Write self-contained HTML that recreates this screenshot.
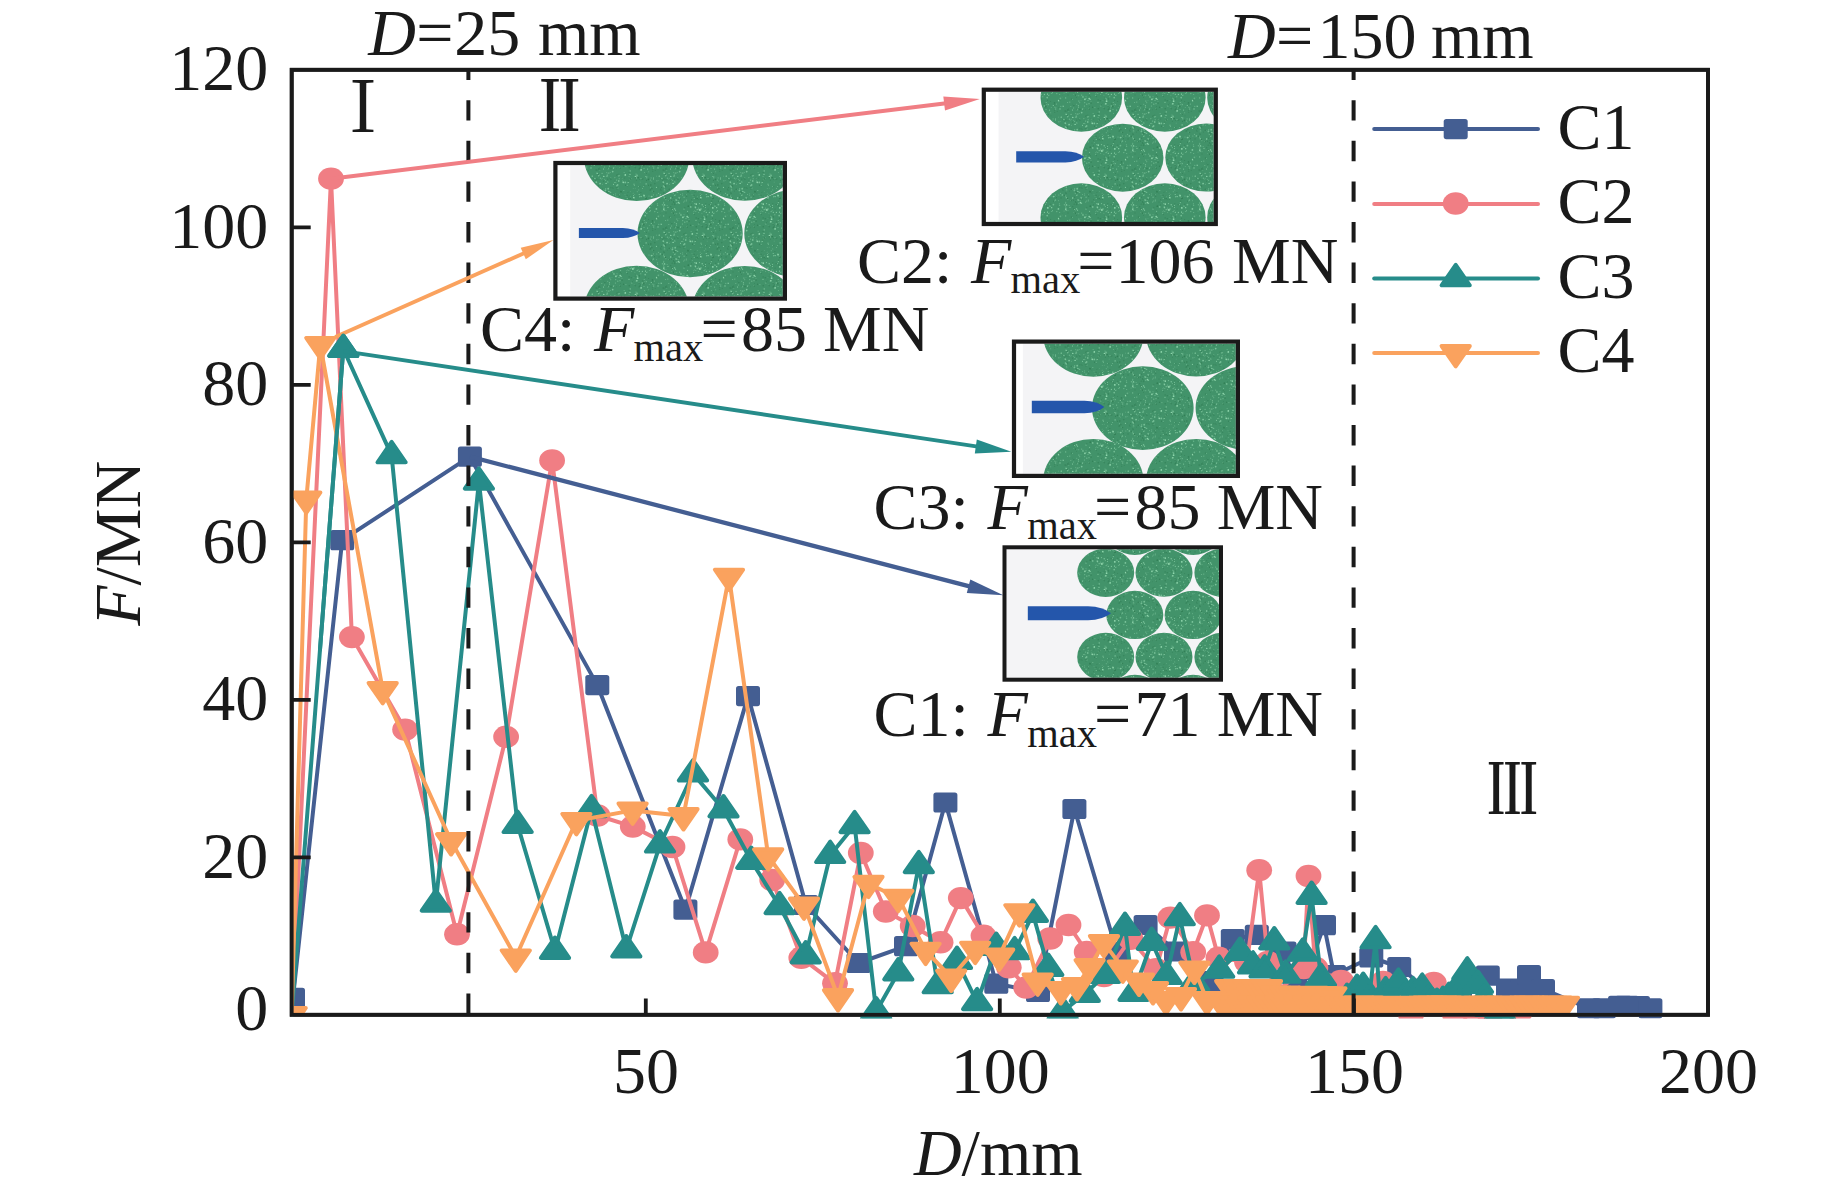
<!DOCTYPE html>
<html lang="en">
<head>
<meta charset="utf-8">
<title>F-D curves</title>
<style>html,body{margin:0;padding:0;background:#fff}body{width:1842px;height:1196px;overflow:hidden}svg{display:block}text{font-family:"Liberation Serif","Noto Serif CJK SC",serif;fill:#1a1a1a}.rn{font-family:"Noto Serif CJK SC","Liberation Serif",serif;font-weight:600}</style>
</head>
<body>
<svg width="1842" height="1196" viewBox="0 0 1842 1196">
<defs>
<pattern id="spk" width="67" height="59" patternUnits="userSpaceOnUse"><circle cx="30.3" cy="33.0" r="0.85" fill="#9be0b6" opacity="0.61"/><circle cx="34.0" cy="34.7" r="0.45" fill="#9be0b6" opacity="0.79"/><circle cx="31.9" cy="36.2" r="0.45" fill="#9be0b6" opacity="0.40"/><circle cx="20.3" cy="5.3" r="0.85" fill="#9be0b6" opacity="0.84"/><circle cx="42.5" cy="35.1" r="0.55" fill="#9be0b6" opacity="0.88"/><circle cx="43.8" cy="36.3" r="0.45" fill="#9be0b6" opacity="0.69"/><circle cx="55.7" cy="3.7" r="0.4" fill="#9be0b6" opacity="0.45"/><circle cx="16.2" cy="1.8" r="0.55" fill="#9be0b6" opacity="0.53"/><circle cx="39.6" cy="11.5" r="0.45" fill="#9be0b6" opacity="0.70"/><circle cx="33.5" cy="39.1" r="0.55" fill="#9be0b6" opacity="0.71"/><circle cx="27.3" cy="32.5" r="0.85" fill="#9be0b6" opacity="0.40"/><circle cx="17.0" cy="44.7" r="0.6" fill="#9be0b6" opacity="0.51"/><circle cx="4.7" cy="45.2" r="0.55" fill="#9be0b6" opacity="0.41"/><circle cx="19.5" cy="3.9" r="0.4" fill="#9be0b6" opacity="0.82"/><circle cx="0.0" cy="12.4" r="0.4" fill="#9be0b6" opacity="0.61"/><circle cx="65.7" cy="23.4" r="0.4" fill="#9be0b6" opacity="0.66"/><circle cx="13.3" cy="39.8" r="0.5" fill="#9be0b6" opacity="0.40"/><circle cx="22.3" cy="56.9" r="0.85" fill="#9be0b6" opacity="0.86"/><circle cx="9.0" cy="41.7" r="0.4" fill="#9be0b6" opacity="0.38"/><circle cx="53.4" cy="10.5" r="0.6" fill="#9be0b6" opacity="0.45"/><circle cx="34.1" cy="58.1" r="0.85" fill="#9be0b6" opacity="0.42"/><circle cx="43.1" cy="6.9" r="0.55" fill="#9be0b6" opacity="0.89"/><circle cx="0.0" cy="51.0" r="0.85" fill="#9be0b6" opacity="0.68"/><circle cx="66.9" cy="1.2" r="0.45" fill="#9be0b6" opacity="0.57"/><circle cx="57.2" cy="37.9" r="0.4" fill="#9be0b6" opacity="0.37"/><circle cx="9.8" cy="26.1" r="0.4" fill="#9be0b6" opacity="0.77"/><circle cx="22.0" cy="17.5" r="0.4" fill="#9be0b6" opacity="0.39"/><circle cx="14.0" cy="37.6" r="0.4" fill="#9be0b6" opacity="0.68"/><circle cx="24.9" cy="26.7" r="0.6" fill="#9be0b6" opacity="0.62"/><circle cx="38.5" cy="51.1" r="0.45" fill="#9be0b6" opacity="0.69"/><circle cx="20.8" cy="13.5" r="0.6" fill="#9be0b6" opacity="0.49"/><circle cx="12.7" cy="43.6" r="0.6" fill="#9be0b6" opacity="0.46"/><circle cx="63.7" cy="52.0" r="0.6" fill="#9be0b6" opacity="0.39"/><circle cx="3.2" cy="6.4" r="0.6" fill="#9be0b6" opacity="0.88"/><circle cx="16.0" cy="41.6" r="0.5" fill="#9be0b6" opacity="0.58"/><circle cx="60.6" cy="29.0" r="0.6" fill="#9be0b6" opacity="0.45"/><circle cx="48.3" cy="4.1" r="0.45" fill="#9be0b6" opacity="0.61"/><circle cx="43.8" cy="36.3" r="0.4" fill="#9be0b6" opacity="0.50"/><circle cx="61.5" cy="12.0" r="0.4" fill="#9be0b6" opacity="0.39"/><circle cx="27.6" cy="14.7" r="0.4" fill="#9be0b6" opacity="0.45"/><circle cx="24.7" cy="33.8" r="0.45" fill="#9be0b6" opacity="0.40"/><circle cx="9.3" cy="26.6" r="0.5" fill="#9be0b6" opacity="0.71"/><circle cx="46.3" cy="34.5" r="0.45" fill="#9be0b6" opacity="0.67"/><circle cx="61.9" cy="28.0" r="0.5" fill="#9be0b6" opacity="0.74"/><circle cx="64.5" cy="1.3" r="0.7" fill="#9be0b6" opacity="0.39"/><circle cx="4.5" cy="18.4" r="0.45" fill="#9be0b6" opacity="0.90"/><circle cx="5.0" cy="32.2" r="0.7" fill="#9be0b6" opacity="0.37"/><circle cx="62.7" cy="43.5" r="0.45" fill="#9be0b6" opacity="0.79"/><circle cx="61.3" cy="20.8" r="0.7" fill="#9be0b6" opacity="0.61"/><circle cx="5.2" cy="50.6" r="0.85" fill="#9be0b6" opacity="0.37"/><circle cx="33.5" cy="0.9" r="0.7" fill="#9be0b6" opacity="0.56"/><circle cx="39.0" cy="35.9" r="0.4" fill="#9be0b6" opacity="0.40"/><circle cx="7.7" cy="15.2" r="0.55" fill="#9be0b6" opacity="0.75"/><circle cx="26.0" cy="43.4" r="0.6" fill="#9be0b6" opacity="0.60"/><circle cx="31.0" cy="31.9" r="0.6" fill="#9be0b6" opacity="0.76"/><circle cx="2.0" cy="35.5" r="0.55" fill="#9be0b6" opacity="0.36"/><circle cx="64.1" cy="6.7" r="0.85" fill="#9be0b6" opacity="0.69"/><circle cx="61.7" cy="15.1" r="0.4" fill="#9be0b6" opacity="0.55"/><circle cx="9.6" cy="36.1" r="0.6" fill="#9be0b6" opacity="0.44"/><circle cx="60.7" cy="38.9" r="0.55" fill="#9be0b6" opacity="0.62"/><circle cx="16.2" cy="23.9" r="0.5" fill="#9be0b6" opacity="0.46"/><circle cx="28.9" cy="47.6" r="0.45" fill="#9be0b6" opacity="0.83"/><circle cx="25.8" cy="34.4" r="0.5" fill="#9be0b6" opacity="0.47"/><circle cx="9.0" cy="20.7" r="0.85" fill="#9be0b6" opacity="0.37"/><circle cx="4.3" cy="57.8" r="0.85" fill="#9be0b6" opacity="0.44"/><circle cx="30.2" cy="16.2" r="0.45" fill="#9be0b6" opacity="0.81"/><circle cx="25.6" cy="30.7" r="0.7" fill="#9be0b6" opacity="0.52"/><circle cx="56.2" cy="57.9" r="0.55" fill="#9be0b6" opacity="0.53"/><circle cx="55.5" cy="16.4" r="0.6" fill="#9be0b6" opacity="0.37"/><circle cx="47.5" cy="33.7" r="0.5" fill="#9be0b6" opacity="0.71"/><circle cx="37.8" cy="37.8" r="0.55" fill="#9be0b6" opacity="0.60"/><circle cx="1.7" cy="49.0" r="0.45" fill="#9be0b6" opacity="0.78"/><circle cx="53.4" cy="58.1" r="0.4" fill="#9be0b6" opacity="0.60"/><circle cx="42.2" cy="38.6" r="0.85" fill="#9be0b6" opacity="0.55"/><circle cx="5.2" cy="11.7" r="0.85" fill="#9be0b6" opacity="0.61"/><circle cx="12.0" cy="0.6" r="0.55" fill="#9be0b6" opacity="0.64"/><circle cx="2.4" cy="13.4" r="0.85" fill="#9be0b6" opacity="0.54"/><circle cx="46.7" cy="30.7" r="0.6" fill="#9be0b6" opacity="0.90"/><circle cx="10.7" cy="50.1" r="0.7" fill="#9be0b6" opacity="0.85"/><circle cx="5.8" cy="55.0" r="0.7" fill="#9be0b6" opacity="0.56"/><circle cx="30.2" cy="11.6" r="0.4" fill="#9be0b6" opacity="0.56"/><circle cx="38.1" cy="51.9" r="0.85" fill="#9be0b6" opacity="0.80"/><circle cx="23.0" cy="19.3" r="0.45" fill="#9be0b6" opacity="0.40"/><circle cx="58.0" cy="47.1" r="0.7" fill="#9be0b6" opacity="0.42"/><circle cx="16.2" cy="23.0" r="0.4" fill="#9be0b6" opacity="0.89"/><circle cx="36.0" cy="46.7" r="0.5" fill="#9be0b6" opacity="0.49"/><circle cx="48.1" cy="0.9" r="0.6" fill="#9be0b6" opacity="0.40"/><circle cx="29.5" cy="32.5" r="0.85" fill="#9be0b6" opacity="0.50"/><circle cx="61.6" cy="12.9" r="0.85" fill="#9be0b6" opacity="0.39"/><circle cx="53.6" cy="10.2" r="0.5" fill="#9be0b6" opacity="0.73"/><circle cx="61.4" cy="27.8" r="0.6" fill="#9be0b6" opacity="0.85"/><circle cx="34.7" cy="40.0" r="0.55" fill="#9be0b6" opacity="0.87"/><circle cx="33.0" cy="56.0" r="0.4" fill="#9be0b6" opacity="0.77"/><circle cx="29.4" cy="33.0" r="0.85" fill="#9be0b6" opacity="0.75"/><circle cx="42.8" cy="30.8" r="0.85" fill="#9be0b6" opacity="0.85"/><circle cx="17.2" cy="39.6" r="0.85" fill="#9be0b6" opacity="0.83"/><circle cx="40.8" cy="18.0" r="0.45" fill="#9be0b6" opacity="0.88"/><circle cx="35.1" cy="33.8" r="0.45" fill="#9be0b6" opacity="0.58"/><circle cx="7.7" cy="0.3" r="0.55" fill="#9be0b6" opacity="0.37"/><circle cx="65.0" cy="30.4" r="0.55" fill="#9be0b6" opacity="0.65"/><circle cx="66.3" cy="7.2" r="0.4" fill="#9be0b6" opacity="0.73"/><circle cx="4.4" cy="31.8" r="0.55" fill="#9be0b6" opacity="0.86"/><circle cx="53.6" cy="23.8" r="0.45" fill="#9be0b6" opacity="0.61"/><circle cx="8.5" cy="25.6" r="0.85" fill="#9be0b6" opacity="0.86"/><circle cx="61.6" cy="31.0" r="0.4" fill="#9be0b6" opacity="0.46"/><circle cx="41.4" cy="54.6" r="0.45" fill="#9be0b6" opacity="0.74"/><circle cx="65.5" cy="2.1" r="0.45" fill="#9be0b6" opacity="0.47"/><circle cx="46.0" cy="19.0" r="0.5" fill="#9be0b6" opacity="0.48"/><circle cx="33.4" cy="29.5" r="0.6" fill="#9be0b6" opacity="0.42"/><circle cx="34.2" cy="14.8" r="0.45" fill="#9be0b6" opacity="0.74"/><circle cx="58.9" cy="1.4" r="0.7" fill="#9be0b6" opacity="0.58"/><circle cx="35.5" cy="9.4" r="0.45" fill="#9be0b6" opacity="0.83"/><circle cx="35.8" cy="12.9" r="0.45" fill="#9be0b6" opacity="0.82"/><circle cx="41.0" cy="50.5" r="0.45" fill="#9be0b6" opacity="0.85"/><circle cx="42.1" cy="20.5" r="0.45" fill="#9be0b6" opacity="0.52"/><circle cx="21.1" cy="54.4" r="0.45" fill="#9be0b6" opacity="0.78"/><circle cx="13.0" cy="5.7" r="0.45" fill="#9be0b6" opacity="0.42"/><circle cx="5.9" cy="22.9" r="0.55" fill="#9be0b6" opacity="0.81"/><circle cx="28.2" cy="46.6" r="0.45" fill="#9be0b6" opacity="0.46"/><circle cx="42.1" cy="47.1" r="0.4" fill="#9be0b6" opacity="0.46"/><circle cx="45.7" cy="53.8" r="0.5" fill="#9be0b6" opacity="0.41"/><circle cx="33.9" cy="44.7" r="0.6" fill="#9be0b6" opacity="0.90"/><circle cx="55.8" cy="47.4" r="0.55" fill="#9be0b6" opacity="0.41"/><circle cx="2.5" cy="32.5" r="0.6" fill="#9be0b6" opacity="0.85"/><circle cx="32.2" cy="11.2" r="0.4" fill="#9be0b6" opacity="0.46"/><circle cx="56.3" cy="58.4" r="0.7" fill="#9be0b6" opacity="0.40"/><circle cx="4.2" cy="56.1" r="0.55" fill="#9be0b6" opacity="0.39"/><circle cx="6.5" cy="23.1" r="0.55" fill="#9be0b6" opacity="0.63"/><circle cx="28.8" cy="35.5" r="0.4" fill="#9be0b6" opacity="0.70"/><circle cx="2.7" cy="11.8" r="0.55" fill="#9be0b6" opacity="0.60"/><circle cx="49.5" cy="23.9" r="0.45" fill="#9be0b6" opacity="0.68"/><circle cx="6.4" cy="46.7" r="0.5" fill="#9be0b6" opacity="0.84"/><circle cx="53.7" cy="41.6" r="0.85" fill="#9be0b6" opacity="0.85"/><circle cx="63.0" cy="33.6" r="0.45" fill="#9be0b6" opacity="0.63"/><circle cx="65.8" cy="47.5" r="0.5" fill="#9be0b6" opacity="0.50"/><circle cx="7.8" cy="43.8" r="0.45" fill="#9be0b6" opacity="0.80"/><circle cx="27.2" cy="52.9" r="0.6" fill="#9be0b6" opacity="0.73"/><circle cx="51.4" cy="45.1" r="0.55" fill="#9be0b6" opacity="0.46"/><circle cx="12.4" cy="47.0" r="0.5" fill="#9be0b6" opacity="0.61"/><circle cx="0.7" cy="21.0" r="0.7" fill="#9be0b6" opacity="0.85"/><circle cx="3.3" cy="16.1" r="0.7" fill="#9be0b6" opacity="0.51"/><circle cx="14.5" cy="24.0" r="0.45" fill="#9be0b6" opacity="0.64"/><circle cx="26.1" cy="59.0" r="0.7" fill="#9be0b6" opacity="0.47"/><circle cx="8.0" cy="23.3" r="0.6" fill="#9be0b6" opacity="0.36"/><circle cx="41.2" cy="43.6" r="0.5" fill="#9be0b6" opacity="0.59"/><circle cx="33.8" cy="44.9" r="0.7" fill="#9be0b6" opacity="0.56"/><circle cx="6.6" cy="14.8" r="0.5" fill="#9be0b6" opacity="0.65"/><circle cx="34.0" cy="57.1" r="0.6" fill="#9be0b6" opacity="0.82"/><circle cx="6.7" cy="26.2" r="0.7" fill="#9be0b6" opacity="0.39"/><circle cx="40.0" cy="44.8" r="0.4" fill="#9be0b6" opacity="0.56"/><circle cx="62.9" cy="22.8" r="0.45" fill="#9be0b6" opacity="0.82"/><circle cx="36.3" cy="35.2" r="0.55" fill="#9be0b6" opacity="0.87"/><circle cx="28.2" cy="31.1" r="0.6" fill="#9be0b6" opacity="0.52"/><circle cx="35.5" cy="28.5" r="0.5" fill="#9be0b6" opacity="0.66"/><circle cx="19.0" cy="42.3" r="0.5" fill="#9be0b6" opacity="0.36"/><circle cx="51.8" cy="34.6" r="0.7" fill="#9be0b6" opacity="0.44"/><circle cx="50.6" cy="23.0" r="0.5" fill="#9be0b6" opacity="0.76"/><circle cx="3.4" cy="58.3" r="0.5" fill="#9be0b6" opacity="0.39"/><circle cx="60.7" cy="25.3" r="0.55" fill="#9be0b6" opacity="0.49"/><circle cx="50.6" cy="2.7" r="0.4" fill="#9be0b6" opacity="0.87"/><circle cx="48.4" cy="27.6" r="0.85" fill="#9be0b6" opacity="0.48"/><circle cx="47.3" cy="3.0" r="0.55" fill="#9be0b6" opacity="0.60"/><circle cx="13.6" cy="3.1" r="0.6" fill="#9be0b6" opacity="0.44"/><circle cx="24.3" cy="8.2" r="0.55" fill="#9be0b6" opacity="0.60"/><circle cx="17.6" cy="34.4" r="0.55" fill="#9be0b6" opacity="0.55"/><circle cx="49.8" cy="48.1" r="0.45" fill="#9be0b6" opacity="0.87"/><circle cx="49.2" cy="14.1" r="0.4" fill="#9be0b6" opacity="0.63"/><circle cx="20.7" cy="29.9" r="0.85" fill="#9be0b6" opacity="0.55"/><circle cx="18.2" cy="40.4" r="0.6" fill="#9be0b6" opacity="0.73"/><circle cx="12.7" cy="16.4" r="0.45" fill="#9be0b6" opacity="0.45"/><circle cx="16.7" cy="57.8" r="0.45" fill="#9be0b6" opacity="0.83"/><circle cx="2.6" cy="3.6" r="0.5" fill="#9be0b6" opacity="0.49"/><circle cx="1.8" cy="2.2" r="0.45" fill="#9be0b6" opacity="0.65"/><circle cx="4.9" cy="5.1" r="0.7" fill="#9be0b6" opacity="0.44"/><circle cx="15.7" cy="57.9" r="0.55" fill="#9be0b6" opacity="0.61"/><circle cx="14.1" cy="20.3" r="0.7" fill="#9be0b6" opacity="0.42"/><circle cx="58.3" cy="47.3" r="0.55" fill="#9be0b6" opacity="0.80"/><circle cx="41.8" cy="45.4" r="0.45" fill="#9be0b6" opacity="0.59"/><circle cx="50.1" cy="23.0" r="0.45" fill="#9be0b6" opacity="0.55"/><circle cx="43.8" cy="58.4" r="0.5" fill="#9be0b6" opacity="0.51"/><circle cx="50.9" cy="48.7" r="0.45" fill="#9be0b6" opacity="0.59"/><circle cx="24.7" cy="5.7" r="0.5" fill="#9be0b6" opacity="0.39"/><circle cx="5.6" cy="33.3" r="0.55" fill="#9be0b6" opacity="0.80"/><circle cx="31.1" cy="48.6" r="0.4" fill="#9be0b6" opacity="0.39"/><circle cx="14.3" cy="39.1" r="0.4" fill="#9be0b6" opacity="0.73"/><circle cx="33.1" cy="45.1" r="0.5" fill="#9be0b6" opacity="0.51"/><circle cx="9.6" cy="21.1" r="0.7" fill="#9be0b6" opacity="0.53"/><circle cx="60.7" cy="19.0" r="0.55" fill="#9be0b6" opacity="0.66"/><circle cx="61.5" cy="55.5" r="0.5" fill="#9be0b6" opacity="0.59"/><circle cx="53.8" cy="18.0" r="0.5" fill="#9be0b6" opacity="0.47"/><circle cx="64.8" cy="43.1" r="0.6" fill="#9be0b6" opacity="0.49"/><circle cx="24.2" cy="21.6" r="0.5" fill="#9be0b6" opacity="0.72"/><circle cx="39.2" cy="47.0" r="0.7" fill="#9be0b6" opacity="0.66"/><circle cx="53.4" cy="31.9" r="0.85" fill="#9be0b6" opacity="0.68"/><circle cx="11.9" cy="5.3" r="0.55" fill="#9be0b6" opacity="0.83"/><circle cx="18.9" cy="1.3" r="0.6" fill="#9be0b6" opacity="0.38"/><circle cx="10.6" cy="17.5" r="0.4" fill="#9be0b6" opacity="0.71"/><circle cx="53.9" cy="3.8" r="0.6" fill="#9be0b6" opacity="0.52"/><circle cx="36.5" cy="19.7" r="0.5" fill="#9be0b6" opacity="0.76"/><circle cx="60.2" cy="5.0" r="0.7" fill="#9be0b6" opacity="0.71"/><circle cx="6.5" cy="48.2" r="0.55" fill="#9be0b6" opacity="0.48"/><circle cx="14.8" cy="45.2" r="0.6" fill="#9be0b6" opacity="0.54"/><circle cx="30.8" cy="20.7" r="0.85" fill="#9be0b6" opacity="0.88"/><circle cx="45.0" cy="29.1" r="0.6" fill="#9be0b6" opacity="0.79"/><circle cx="4.9" cy="36.5" r="0.4" fill="#9be0b6" opacity="0.58"/><circle cx="55.4" cy="39.3" r="0.85" fill="#9be0b6" opacity="0.35"/><circle cx="25.3" cy="5.3" r="0.55" fill="#9be0b6" opacity="0.88"/><circle cx="42.9" cy="30.9" r="0.7" fill="#9be0b6" opacity="0.36"/><circle cx="7.4" cy="54.5" r="0.45" fill="#9be0b6" opacity="0.49"/><circle cx="10.9" cy="37.5" r="0.7" fill="#9be0b6" opacity="0.44"/><circle cx="13.7" cy="25.1" r="0.5" fill="#9be0b6" opacity="0.50"/><circle cx="59.4" cy="27.8" r="0.7" fill="#9be0b6" opacity="0.41"/><circle cx="43.4" cy="45.8" r="0.45" fill="#9be0b6" opacity="0.85"/><circle cx="50.5" cy="1.0" r="0.55" fill="#9be0b6" opacity="0.85"/><circle cx="2.4" cy="6.4" r="0.45" fill="#9be0b6" opacity="0.55"/><circle cx="39.4" cy="35.4" r="0.55" fill="#9be0b6" opacity="0.68"/><circle cx="15.0" cy="10.9" r="0.5" fill="#9be0b6" opacity="0.57"/><circle cx="61.0" cy="55.3" r="0.7" fill="#9be0b6" opacity="0.65"/><circle cx="54.7" cy="28.3" r="0.5" fill="#9be0b6" opacity="0.62"/><circle cx="27.0" cy="56.4" r="0.7" fill="#9be0b6" opacity="0.65"/><circle cx="64.1" cy="28.5" r="0.45" fill="#9be0b6" opacity="0.57"/><circle cx="14.6" cy="7.9" r="0.85" fill="#9be0b6" opacity="0.56"/><circle cx="35.3" cy="30.4" r="0.5" fill="#9be0b6" opacity="0.78"/><circle cx="3.9" cy="54.5" r="0.4" fill="#9be0b6" opacity="0.83"/><circle cx="60.7" cy="26.6" r="0.45" fill="#9be0b6" opacity="0.74"/><circle cx="40.6" cy="9.3" r="0.45" fill="#9be0b6" opacity="0.77"/><circle cx="9.7" cy="53.6" r="0.85" fill="#9be0b6" opacity="0.63"/><circle cx="42.7" cy="58.6" r="0.5" fill="#9be0b6" opacity="0.63"/><circle cx="3.5" cy="33.7" r="0.45" fill="#9be0b6" opacity="0.35"/><circle cx="55.0" cy="49.9" r="0.85" fill="#9be0b6" opacity="0.42"/><circle cx="23.6" cy="36.3" r="0.6" fill="#9be0b6" opacity="0.40"/><circle cx="32.2" cy="27.7" r="0.7" fill="#9be0b6" opacity="0.67"/><circle cx="57.4" cy="17.9" r="0.85" fill="#9be0b6" opacity="0.45"/><circle cx="12.9" cy="40.3" r="0.85" fill="#9be0b6" opacity="0.80"/><circle cx="14.0" cy="32.1" r="0.6" fill="#9be0b6" opacity="0.62"/><circle cx="63.4" cy="56.9" r="0.5" fill="#9be0b6" opacity="0.52"/><circle cx="5.1" cy="18.0" r="0.55" fill="#9be0b6" opacity="0.72"/><circle cx="4.5" cy="4.4" r="0.45" fill="#9be0b6" opacity="0.41"/><circle cx="26.4" cy="27.2" r="0.85" fill="#9be0b6" opacity="0.81"/><circle cx="43.8" cy="0.7" r="0.55" fill="#9be0b6" opacity="0.74"/><circle cx="31.8" cy="17.3" r="0.4" fill="#9be0b6" opacity="0.60"/><circle cx="0.7" cy="58.5" r="0.85" fill="#9be0b6" opacity="0.75"/><circle cx="60.4" cy="9.0" r="0.7" fill="#9be0b6" opacity="0.56"/><circle cx="36.2" cy="17.6" r="0.5" fill="#9be0b6" opacity="0.77"/><circle cx="37.2" cy="5.1" r="0.45" fill="#9be0b6" opacity="0.46"/><circle cx="49.0" cy="19.4" r="0.5" fill="#9be0b6" opacity="0.66"/><circle cx="48.5" cy="19.6" r="0.85" fill="#9be0b6" opacity="0.56"/><circle cx="6.8" cy="36.7" r="0.45" fill="#9be0b6" opacity="0.72"/><circle cx="47.5" cy="10.6" r="0.55" fill="#9be0b6" opacity="0.37"/><circle cx="31.0" cy="41.5" r="0.4" fill="#9be0b6" opacity="0.47"/><circle cx="10.5" cy="7.3" r="0.55" fill="#9be0b6" opacity="0.77"/><circle cx="22.9" cy="48.6" r="0.6" fill="#9be0b6" opacity="0.43"/><circle cx="13.8" cy="8.7" r="0.7" fill="#9be0b6" opacity="0.56"/><circle cx="22.2" cy="24.3" r="0.4" fill="#9be0b6" opacity="0.75"/><circle cx="41.1" cy="18.7" r="0.85" fill="#9be0b6" opacity="0.78"/><circle cx="44.2" cy="35.9" r="0.4" fill="#9be0b6" opacity="0.49"/><circle cx="12.6" cy="18.1" r="0.55" fill="#9be0b6" opacity="0.41"/><circle cx="25.3" cy="30.1" r="0.85" fill="#9be0b6" opacity="0.51"/><circle cx="6.9" cy="42.1" r="0.5" fill="#9be0b6" opacity="0.77"/><circle cx="60.5" cy="32.3" r="0.5" fill="#9be0b6" opacity="0.69"/><circle cx="34.4" cy="33.9" r="0.45" fill="#9be0b6" opacity="0.89"/><circle cx="34.6" cy="42.2" r="0.85" fill="#9be0b6" opacity="0.86"/><circle cx="38.0" cy="1.6" r="0.7" fill="#9be0b6" opacity="0.46"/><circle cx="5.6" cy="14.4" r="0.6" fill="#9be0b6" opacity="0.58"/><circle cx="22.3" cy="5.4" r="0.85" fill="#9be0b6" opacity="0.55"/><circle cx="31.0" cy="7.3" r="0.7" fill="#9be0b6" opacity="0.42"/><circle cx="60.6" cy="32.1" r="0.6" fill="#9be0b6" opacity="0.38"/><circle cx="61.3" cy="9.9" r="0.7" fill="#9be0b6" opacity="0.90"/><circle cx="54.8" cy="35.5" r="0.4" fill="#9be0b6" opacity="0.86"/><circle cx="0.3" cy="40.4" r="0.5" fill="#9be0b6" opacity="0.48"/><circle cx="38.4" cy="49.0" r="0.45" fill="#9be0b6" opacity="0.68"/><circle cx="54.4" cy="26.8" r="0.55" fill="#9be0b6" opacity="0.45"/><circle cx="66.1" cy="55.4" r="0.7" fill="#9be0b6" opacity="0.43"/><circle cx="50.7" cy="50.0" r="0.55" fill="#9be0b6" opacity="0.69"/><circle cx="42.9" cy="45.0" r="0.45" fill="#9be0b6" opacity="0.46"/><circle cx="31.4" cy="8.4" r="0.55" fill="#9be0b6" opacity="0.42"/><circle cx="27.2" cy="19.8" r="0.45" fill="#9be0b6" opacity="0.50"/><circle cx="38.1" cy="19.6" r="0.7" fill="#9be0b6" opacity="0.78"/><circle cx="48.3" cy="46.5" r="0.55" fill="#9be0b6" opacity="0.88"/><circle cx="40.2" cy="27.7" r="0.55" fill="#9be0b6" opacity="0.84"/><circle cx="61.2" cy="33.3" r="0.55" fill="#9be0b6" opacity="0.76"/><circle cx="32.5" cy="58.7" r="0.85" fill="#9be0b6" opacity="0.85"/><circle cx="46.2" cy="48.7" r="0.4" fill="#9be0b6" opacity="0.66"/><circle cx="60.7" cy="31.0" r="0.6" fill="#9be0b6" opacity="0.64"/><circle cx="28.2" cy="1.4" r="0.4" fill="#9be0b6" opacity="0.51"/><circle cx="41.3" cy="25.6" r="0.55" fill="#9be0b6" opacity="0.68"/><circle cx="50.4" cy="18.0" r="0.6" fill="#9be0b6" opacity="0.83"/><circle cx="16.4" cy="49.8" r="0.45" fill="#9be0b6" opacity="0.63"/><circle cx="26.6" cy="3.1" r="0.7" fill="#9be0b6" opacity="0.41"/><circle cx="61.0" cy="32.2" r="0.7" fill="#9be0b6" opacity="0.57"/><circle cx="15.8" cy="4.0" r="0.7" fill="#9be0b6" opacity="0.88"/><circle cx="44.6" cy="51.1" r="0.55" fill="#9be0b6" opacity="0.66"/><circle cx="11.0" cy="38.3" r="0.55" fill="#9be0b6" opacity="0.66"/><circle cx="60.5" cy="5.8" r="0.85" fill="#9be0b6" opacity="0.42"/><circle cx="59.1" cy="34.0" r="0.55" fill="#9be0b6" opacity="0.35"/><circle cx="16.3" cy="17.7" r="0.5" fill="#9be0b6" opacity="0.44"/><circle cx="29.5" cy="26.6" r="0.6" fill="#9be0b6" opacity="0.57"/><circle cx="23.9" cy="34.5" r="0.4" fill="#9be0b6" opacity="0.52"/><circle cx="30.5" cy="18.5" r="0.5" fill="#9be0b6" opacity="0.62"/><circle cx="62.6" cy="57.7" r="0.55" fill="#9be0b6" opacity="0.83"/><circle cx="13.6" cy="50.7" r="0.5" fill="#2a774d" opacity="0.38"/><circle cx="56.1" cy="20.9" r="0.9" fill="#2a774d" opacity="0.31"/><circle cx="42.6" cy="41.2" r="0.6" fill="#2a774d" opacity="0.51"/><circle cx="15.8" cy="56.0" r="0.5" fill="#2a774d" opacity="0.56"/><circle cx="20.5" cy="48.2" r="0.7" fill="#2a774d" opacity="0.65"/><circle cx="47.8" cy="8.0" r="0.9" fill="#2a774d" opacity="0.47"/><circle cx="11.3" cy="50.8" r="0.5" fill="#2a774d" opacity="0.58"/><circle cx="13.2" cy="10.7" r="0.6" fill="#2a774d" opacity="0.50"/><circle cx="19.8" cy="16.1" r="0.5" fill="#2a774d" opacity="0.54"/><circle cx="15.3" cy="17.8" r="0.6" fill="#2a774d" opacity="0.57"/><circle cx="18.5" cy="37.8" r="0.5" fill="#2a774d" opacity="0.49"/><circle cx="5.1" cy="54.1" r="0.5" fill="#2a774d" opacity="0.51"/><circle cx="3.0" cy="35.4" r="0.7" fill="#2a774d" opacity="0.51"/><circle cx="28.4" cy="33.5" r="0.6" fill="#2a774d" opacity="0.41"/><circle cx="50.6" cy="14.5" r="0.7" fill="#2a774d" opacity="0.59"/><circle cx="1.9" cy="46.6" r="0.6" fill="#2a774d" opacity="0.70"/><circle cx="2.3" cy="27.2" r="0.9" fill="#2a774d" opacity="0.30"/><circle cx="59.7" cy="3.6" r="0.5" fill="#2a774d" opacity="0.52"/><circle cx="43.2" cy="21.2" r="0.9" fill="#2a774d" opacity="0.61"/><circle cx="34.6" cy="29.8" r="0.6" fill="#2a774d" opacity="0.54"/><circle cx="51.7" cy="6.6" r="0.9" fill="#2a774d" opacity="0.39"/><circle cx="29.5" cy="45.6" r="0.6" fill="#2a774d" opacity="0.40"/><circle cx="36.5" cy="50.3" r="0.9" fill="#2a774d" opacity="0.40"/><circle cx="13.6" cy="57.3" r="0.5" fill="#2a774d" opacity="0.53"/><circle cx="58.5" cy="10.6" r="0.6" fill="#2a774d" opacity="0.54"/><circle cx="40.8" cy="47.6" r="0.9" fill="#2a774d" opacity="0.59"/><circle cx="57.4" cy="1.8" r="0.5" fill="#2a774d" opacity="0.66"/><circle cx="38.1" cy="32.1" r="0.6" fill="#2a774d" opacity="0.55"/><circle cx="3.6" cy="25.1" r="0.7" fill="#2a774d" opacity="0.63"/><circle cx="49.5" cy="46.1" r="0.9" fill="#2a774d" opacity="0.34"/><circle cx="55.0" cy="10.1" r="0.7" fill="#2a774d" opacity="0.40"/><circle cx="33.3" cy="38.9" r="0.9" fill="#2a774d" opacity="0.32"/><circle cx="27.5" cy="21.5" r="0.6" fill="#2a774d" opacity="0.58"/><circle cx="64.1" cy="7.6" r="0.6" fill="#2a774d" opacity="0.36"/><circle cx="30.5" cy="44.0" r="0.5" fill="#2a774d" opacity="0.30"/><circle cx="27.5" cy="31.0" r="0.5" fill="#2a774d" opacity="0.46"/><circle cx="20.0" cy="25.0" r="0.5" fill="#2a774d" opacity="0.69"/><circle cx="45.6" cy="42.3" r="0.6" fill="#2a774d" opacity="0.42"/><circle cx="8.0" cy="50.5" r="0.9" fill="#2a774d" opacity="0.48"/><circle cx="62.5" cy="21.5" r="0.7" fill="#2a774d" opacity="0.68"/><circle cx="61.9" cy="12.9" r="0.6" fill="#2a774d" opacity="0.46"/><circle cx="43.5" cy="3.5" r="0.7" fill="#2a774d" opacity="0.53"/><circle cx="61.1" cy="52.2" r="0.6" fill="#2a774d" opacity="0.49"/><circle cx="26.3" cy="49.7" r="0.9" fill="#2a774d" opacity="0.45"/><circle cx="3.3" cy="24.7" r="0.6" fill="#2a774d" opacity="0.37"/><circle cx="36.8" cy="9.7" r="0.6" fill="#2a774d" opacity="0.46"/><circle cx="39.8" cy="44.8" r="0.9" fill="#2a774d" opacity="0.48"/><circle cx="66.6" cy="40.1" r="0.9" fill="#2a774d" opacity="0.38"/><circle cx="25.7" cy="4.3" r="0.7" fill="#2a774d" opacity="0.45"/><circle cx="18.4" cy="1.1" r="0.6" fill="#2a774d" opacity="0.60"/><circle cx="34.3" cy="33.5" r="0.6" fill="#2a774d" opacity="0.41"/><circle cx="24.2" cy="9.1" r="0.7" fill="#2a774d" opacity="0.35"/><circle cx="16.1" cy="49.5" r="0.5" fill="#2a774d" opacity="0.31"/><circle cx="21.6" cy="22.7" r="0.5" fill="#2a774d" opacity="0.64"/><circle cx="25.6" cy="15.1" r="0.5" fill="#2a774d" opacity="0.42"/><circle cx="40.7" cy="28.8" r="0.6" fill="#2a774d" opacity="0.36"/><circle cx="39.9" cy="1.9" r="0.7" fill="#2a774d" opacity="0.46"/><circle cx="32.1" cy="40.9" r="0.7" fill="#2a774d" opacity="0.43"/><circle cx="30.3" cy="22.2" r="0.6" fill="#2a774d" opacity="0.63"/><circle cx="35.8" cy="26.5" r="0.6" fill="#2a774d" opacity="0.45"/><circle cx="58.0" cy="13.3" r="0.7" fill="#2a774d" opacity="0.45"/><circle cx="41.0" cy="8.3" r="0.5" fill="#2a774d" opacity="0.60"/><circle cx="32.3" cy="0.7" r="0.7" fill="#2a774d" opacity="0.56"/><circle cx="4.5" cy="50.3" r="0.7" fill="#2a774d" opacity="0.57"/><circle cx="64.0" cy="51.2" r="0.6" fill="#2a774d" opacity="0.61"/><circle cx="17.4" cy="47.2" r="0.5" fill="#2a774d" opacity="0.46"/><circle cx="4.0" cy="22.6" r="0.7" fill="#2a774d" opacity="0.41"/><circle cx="47.1" cy="13.1" r="0.9" fill="#2a774d" opacity="0.38"/><circle cx="51.5" cy="20.7" r="0.6" fill="#2a774d" opacity="0.51"/><circle cx="49.8" cy="53.5" r="0.6" fill="#2a774d" opacity="0.49"/><circle cx="17.2" cy="50.3" r="0.7" fill="#2a774d" opacity="0.58"/><circle cx="1.5" cy="23.1" r="0.7" fill="#2a774d" opacity="0.66"/><circle cx="61.1" cy="16.0" r="0.9" fill="#2a774d" opacity="0.50"/><circle cx="39.3" cy="27.7" r="0.7" fill="#2a774d" opacity="0.65"/><circle cx="4.8" cy="2.1" r="0.7" fill="#2a774d" opacity="0.66"/><circle cx="37.9" cy="15.5" r="0.6" fill="#2a774d" opacity="0.56"/><circle cx="25.8" cy="20.1" r="0.7" fill="#2a774d" opacity="0.31"/><circle cx="47.4" cy="12.8" r="0.5" fill="#2a774d" opacity="0.55"/><circle cx="41.6" cy="24.2" r="0.9" fill="#2a774d" opacity="0.33"/><circle cx="4.6" cy="27.4" r="0.9" fill="#2a774d" opacity="0.45"/><circle cx="60.9" cy="2.3" r="0.6" fill="#2a774d" opacity="0.57"/><circle cx="18.3" cy="29.2" r="0.9" fill="#2a774d" opacity="0.69"/><circle cx="10.0" cy="11.4" r="0.6" fill="#2a774d" opacity="0.40"/><circle cx="14.7" cy="30.7" r="0.9" fill="#2a774d" opacity="0.30"/><circle cx="36.6" cy="50.1" r="0.5" fill="#2a774d" opacity="0.55"/><circle cx="37.6" cy="49.0" r="0.7" fill="#2a774d" opacity="0.41"/><circle cx="7.0" cy="1.1" r="0.6" fill="#2a774d" opacity="0.58"/><circle cx="46.0" cy="56.9" r="0.6" fill="#2a774d" opacity="0.36"/><circle cx="41.6" cy="28.9" r="0.7" fill="#2a774d" opacity="0.45"/><circle cx="19.1" cy="44.2" r="0.9" fill="#2a774d" opacity="0.39"/><circle cx="16.7" cy="19.2" r="0.6" fill="#2a774d" opacity="0.67"/><circle cx="49.4" cy="51.8" r="0.5" fill="#2a774d" opacity="0.63"/><circle cx="59.3" cy="18.3" r="0.9" fill="#2a774d" opacity="0.50"/><circle cx="45.5" cy="2.4" r="0.9" fill="#2a774d" opacity="0.65"/><circle cx="3.6" cy="15.0" r="0.9" fill="#2a774d" opacity="0.40"/><circle cx="42.5" cy="21.7" r="0.7" fill="#2a774d" opacity="0.37"/><circle cx="57.4" cy="12.1" r="0.6" fill="#2a774d" opacity="0.53"/><circle cx="28.2" cy="41.7" r="0.7" fill="#2a774d" opacity="0.62"/><circle cx="8.4" cy="22.2" r="0.7" fill="#2a774d" opacity="0.39"/><circle cx="12.4" cy="0.8" r="0.6" fill="#2a774d" opacity="0.41"/><circle cx="18.2" cy="14.9" r="0.9" fill="#2a774d" opacity="0.45"/><circle cx="45.5" cy="8.2" r="0.6" fill="#2a774d" opacity="0.59"/><circle cx="7.9" cy="2.5" r="0.7" fill="#2a774d" opacity="0.44"/><circle cx="36.1" cy="47.3" r="0.9" fill="#2a774d" opacity="0.43"/><circle cx="1.8" cy="32.0" r="0.9" fill="#2a774d" opacity="0.37"/><circle cx="4.5" cy="25.9" r="0.7" fill="#2a774d" opacity="0.39"/><circle cx="48.4" cy="24.1" r="0.6" fill="#2a774d" opacity="0.69"/><circle cx="26.1" cy="40.9" r="0.7" fill="#2a774d" opacity="0.62"/><circle cx="9.8" cy="10.3" r="0.5" fill="#2a774d" opacity="0.52"/><circle cx="60.1" cy="52.0" r="0.9" fill="#2a774d" opacity="0.35"/><circle cx="21.7" cy="1.1" r="0.6" fill="#2a774d" opacity="0.41"/><circle cx="26.8" cy="19.0" r="0.5" fill="#2a774d" opacity="0.49"/><circle cx="24.5" cy="15.3" r="0.5" fill="#2a774d" opacity="0.36"/><circle cx="0.5" cy="44.9" r="0.5" fill="#2a774d" opacity="0.30"/><circle cx="22.5" cy="8.2" r="0.6" fill="#2a774d" opacity="0.70"/><circle cx="27.4" cy="1.9" r="0.7" fill="#2a774d" opacity="0.62"/><circle cx="26.5" cy="3.4" r="0.7" fill="#2a774d" opacity="0.41"/><circle cx="62.9" cy="51.0" r="0.9" fill="#2a774d" opacity="0.53"/><circle cx="63.0" cy="2.8" r="0.5" fill="#2a774d" opacity="0.68"/><circle cx="36.1" cy="39.8" r="0.7" fill="#2a774d" opacity="0.44"/><circle cx="50.5" cy="18.3" r="0.9" fill="#2a774d" opacity="0.30"/><circle cx="14.1" cy="56.6" r="0.5" fill="#2a774d" opacity="0.61"/><circle cx="17.8" cy="14.5" r="0.9" fill="#2a774d" opacity="0.46"/><circle cx="53.8" cy="48.8" r="0.5" fill="#2a774d" opacity="0.67"/><circle cx="32.3" cy="49.6" r="0.9" fill="#2a774d" opacity="0.40"/><circle cx="60.9" cy="1.4" r="0.6" fill="#2a774d" opacity="0.39"/><circle cx="26.0" cy="21.8" r="0.7" fill="#2a774d" opacity="0.62"/><circle cx="24.4" cy="37.6" r="0.7" fill="#2a774d" opacity="0.42"/><circle cx="4.5" cy="38.5" r="0.5" fill="#2a774d" opacity="0.41"/><circle cx="14.3" cy="10.6" r="0.5" fill="#2a774d" opacity="0.60"/><circle cx="36.6" cy="40.1" r="0.6" fill="#2a774d" opacity="0.44"/><circle cx="10.4" cy="22.0" r="0.6" fill="#2a774d" opacity="0.47"/><circle cx="0.6" cy="29.7" r="0.9" fill="#2a774d" opacity="0.34"/><circle cx="63.7" cy="49.6" r="0.6" fill="#2a774d" opacity="0.31"/><circle cx="11.7" cy="3.9" r="0.5" fill="#2a774d" opacity="0.53"/><circle cx="21.5" cy="27.9" r="0.6" fill="#2a774d" opacity="0.50"/><circle cx="52.3" cy="52.4" r="0.7" fill="#2a774d" opacity="0.33"/><circle cx="26.1" cy="54.3" r="0.6" fill="#2a774d" opacity="0.61"/><circle cx="35.2" cy="0.6" r="0.9" fill="#2a774d" opacity="0.66"/><circle cx="3.7" cy="36.4" r="0.7" fill="#2a774d" opacity="0.66"/><circle cx="57.4" cy="37.1" r="0.5" fill="#2a774d" opacity="0.35"/><circle cx="49.5" cy="43.9" r="0.9" fill="#2a774d" opacity="0.57"/><circle cx="28.1" cy="22.7" r="0.6" fill="#2a774d" opacity="0.45"/><circle cx="36.3" cy="2.5" r="0.5" fill="#2a774d" opacity="0.51"/><circle cx="30.3" cy="16.8" r="0.5" fill="#2a774d" opacity="0.54"/><circle cx="62.4" cy="9.0" r="0.9" fill="#2a774d" opacity="0.43"/><circle cx="17.2" cy="36.7" r="0.6" fill="#2a774d" opacity="0.59"/><circle cx="66.3" cy="23.7" r="0.6" fill="#2a774d" opacity="0.60"/><circle cx="60.1" cy="6.6" r="0.6" fill="#2a774d" opacity="0.64"/><circle cx="43.5" cy="55.3" r="0.5" fill="#2a774d" opacity="0.62"/><circle cx="34.3" cy="58.6" r="0.5" fill="#2a774d" opacity="0.37"/><circle cx="2.6" cy="20.2" r="0.7" fill="#2a774d" opacity="0.48"/><circle cx="35.9" cy="51.1" r="0.6" fill="#2a774d" opacity="0.50"/><circle cx="64.4" cy="14.1" r="0.5" fill="#2a774d" opacity="0.52"/><circle cx="52.7" cy="29.0" r="0.6" fill="#2a774d" opacity="0.33"/><circle cx="33.3" cy="3.3" r="0.5" fill="#2a774d" opacity="0.62"/><circle cx="10.2" cy="21.6" r="0.5" fill="#2a774d" opacity="0.43"/><circle cx="62.2" cy="56.4" r="0.6" fill="#2a774d" opacity="0.63"/><circle cx="7.9" cy="10.7" r="0.9" fill="#2a774d" opacity="0.31"/><circle cx="45.7" cy="27.5" r="0.9" fill="#2a774d" opacity="0.33"/><circle cx="66.2" cy="12.2" r="0.7" fill="#2a774d" opacity="0.65"/><circle cx="48.8" cy="11.6" r="0.9" fill="#2a774d" opacity="0.45"/><circle cx="54.7" cy="41.3" r="0.7" fill="#2a774d" opacity="0.56"/><circle cx="14.0" cy="12.4" r="0.6" fill="#2a774d" opacity="0.37"/><circle cx="38.9" cy="2.4" r="0.7" fill="#2a774d" opacity="0.35"/><circle cx="63.0" cy="36.0" r="0.7" fill="#2a774d" opacity="0.42"/><circle cx="0.5" cy="4.1" r="0.6" fill="#2a774d" opacity="0.59"/><circle cx="24.1" cy="18.3" r="0.9" fill="#2a774d" opacity="0.38"/><circle cx="4.8" cy="15.7" r="0.7" fill="#2a774d" opacity="0.63"/><circle cx="27.4" cy="27.0" r="0.5" fill="#2a774d" opacity="0.68"/></pattern>
<clipPath id="plotclip"><rect x="291.7" y="60" width="1428.3" height="958.4"/></clipPath>
<clipPath id="orgclip2"><rect x="291.7" y="60" width="1428.3" height="956.0"/></clipPath>
<clipPath id="orgclip"><rect x="291.7" y="60" width="1428.3" height="954.8"/></clipPath>
</defs>
<rect width="1842" height="1196" fill="#ffffff"/>
<rect x="291.7" y="69.8" width="1416.3" height="945.0" fill="none" stroke="#1a1a1a" stroke-width="3.8"/>
<g clip-path="url(#plotclip)">
<polyline points="293.0,997.9 342.2,540.2 469.9,456.7 597.3,685.1 685.4,909.6 748.0,696.1 806.0,905.0 858.5,963.0 906.0,946.2 945.4,802.5 996.3,983.7 1038.0,992.0 1074.4,809.0 1117.0,952.0 1145.6,925.0 1176.0,951.5 1211.5,981.0 1232.8,939.0 1256.8,934.8 1284.5,951.5 1295.0,982.5 1308.5,970.0 1324.0,925.2 1334.0,975.0 1371.3,957.5 1399.2,967.0 1430.0,992.0 1460.0,996.0 1487.8,975.7 1508.0,988.5 1522.0,989.5 1529.0,975.0 1543.0,989.0 1589.0,1008.3 1604.0,1008.3 1620.0,1005.8 1627.0,1005.8 1638.0,1006.2 1650.4,1008.3" fill="none" stroke="#445e92" stroke-width="4.0" stroke-linejoin="round" stroke-linecap="round"/>
<rect x="281.0" y="987.8" width="24" height="20.2" rx="2.6" fill="#445e92"/><rect x="330.2" y="530.1" width="24" height="20.2" rx="2.6" fill="#445e92"/><rect x="457.9" y="446.6" width="24" height="20.2" rx="2.6" fill="#445e92"/><rect x="585.3" y="675.0" width="24" height="20.2" rx="2.6" fill="#445e92"/><rect x="673.4" y="899.5" width="24" height="20.2" rx="2.6" fill="#445e92"/><rect x="736.0" y="686.0" width="24" height="20.2" rx="2.6" fill="#445e92"/><rect x="794.0" y="894.9" width="24" height="20.2" rx="2.6" fill="#445e92"/><rect x="846.5" y="952.9" width="24" height="20.2" rx="2.6" fill="#445e92"/><rect x="894.0" y="936.1" width="24" height="20.2" rx="2.6" fill="#445e92"/><rect x="933.4" y="792.4" width="24" height="20.2" rx="2.6" fill="#445e92"/><rect x="984.3" y="973.6" width="24" height="20.2" rx="2.6" fill="#445e92"/><rect x="1026.0" y="981.9" width="24" height="20.2" rx="2.6" fill="#445e92"/><rect x="1062.4" y="798.9" width="24" height="20.2" rx="2.6" fill="#445e92"/><rect x="1105.0" y="941.9" width="24" height="20.2" rx="2.6" fill="#445e92"/><rect x="1133.6" y="914.9" width="24" height="20.2" rx="2.6" fill="#445e92"/><rect x="1164.0" y="941.4" width="24" height="20.2" rx="2.6" fill="#445e92"/><rect x="1199.5" y="970.9" width="24" height="20.2" rx="2.6" fill="#445e92"/><rect x="1220.8" y="928.9" width="24" height="20.2" rx="2.6" fill="#445e92"/><rect x="1244.8" y="924.7" width="24" height="20.2" rx="2.6" fill="#445e92"/><rect x="1272.5" y="941.4" width="24" height="20.2" rx="2.6" fill="#445e92"/><rect x="1283.0" y="972.4" width="24" height="20.2" rx="2.6" fill="#445e92"/><rect x="1296.5" y="959.9" width="24" height="20.2" rx="2.6" fill="#445e92"/><rect x="1312.0" y="915.1" width="24" height="20.2" rx="2.6" fill="#445e92"/><rect x="1322.0" y="964.9" width="24" height="20.2" rx="2.6" fill="#445e92"/><rect x="1359.3" y="947.4" width="24" height="20.2" rx="2.6" fill="#445e92"/><rect x="1387.2" y="956.9" width="24" height="20.2" rx="2.6" fill="#445e92"/><rect x="1418.0" y="981.9" width="24" height="20.2" rx="2.6" fill="#445e92"/><rect x="1448.0" y="985.9" width="24" height="20.2" rx="2.6" fill="#445e92"/><rect x="1475.8" y="965.6" width="24" height="20.2" rx="2.6" fill="#445e92"/><rect x="1496.0" y="978.4" width="24" height="20.2" rx="2.6" fill="#445e92"/><rect x="1510.0" y="979.4" width="24" height="20.2" rx="2.6" fill="#445e92"/><rect x="1517.0" y="964.9" width="24" height="20.2" rx="2.6" fill="#445e92"/><rect x="1531.0" y="978.9" width="24" height="20.2" rx="2.6" fill="#445e92"/><rect x="1577.0" y="998.2" width="24" height="20.2" rx="2.6" fill="#445e92"/><rect x="1592.0" y="998.2" width="24" height="20.2" rx="2.6" fill="#445e92"/><rect x="1608.0" y="995.7" width="24" height="20.2" rx="2.6" fill="#445e92"/><rect x="1615.0" y="995.7" width="24" height="20.2" rx="2.6" fill="#445e92"/><rect x="1626.0" y="996.1" width="24" height="20.2" rx="2.6" fill="#445e92"/><rect x="1638.4" y="998.2" width="24" height="20.2" rx="2.6" fill="#445e92"/>
<polyline points="291.7,1014.8 331.0,178.7 351.9,637.1 405.1,729.6 457.0,934.3 506.1,736.8 552.1,460.5 597.5,815.5 632.8,826.6 672.5,847.0 705.7,952.4 740.3,839.4 772.2,880.0 801.3,957.8 835.0,983.3 860.8,853.0 885.8,911.5 912.7,926.0 940.6,942.3 960.8,898.1 983.5,935.8 1008.8,967.3 1026.2,987.5 1050.2,938.5 1068.5,925.0 1086.7,951.9 1104.0,976.0 1130.5,938.8 1156.0,969.3 1170.3,917.6 1193.2,952.2 1207.0,915.4 1218.5,957.8 1247.0,962.0 1259.2,870.2 1268.0,962.0 1275.0,994.0 1303.7,968.0 1308.5,876.0 1315.4,968.0 1341.0,981.0 1383.0,982.0 1411.0,1014.8 1433.8,983.0 1455.0,1014.8 1475.0,1014.0 1490.0,1014.8 1520.0,1012.0" fill="none" stroke="#f07e84" stroke-width="4.0" stroke-linejoin="round" stroke-linecap="round"/>
<ellipse cx="331.0" cy="178.7" rx="12.9" ry="11.2" fill="#f07e84"/><ellipse cx="351.9" cy="637.1" rx="12.9" ry="11.2" fill="#f07e84"/><ellipse cx="405.1" cy="729.6" rx="12.9" ry="11.2" fill="#f07e84"/><ellipse cx="457.0" cy="934.3" rx="12.9" ry="11.2" fill="#f07e84"/><ellipse cx="506.1" cy="736.8" rx="12.9" ry="11.2" fill="#f07e84"/><ellipse cx="552.1" cy="460.5" rx="12.9" ry="11.2" fill="#f07e84"/><ellipse cx="597.5" cy="815.5" rx="12.9" ry="11.2" fill="#f07e84"/><ellipse cx="632.8" cy="826.6" rx="12.9" ry="11.2" fill="#f07e84"/><ellipse cx="672.5" cy="847.0" rx="12.9" ry="11.2" fill="#f07e84"/><ellipse cx="705.7" cy="952.4" rx="12.9" ry="11.2" fill="#f07e84"/><ellipse cx="740.3" cy="839.4" rx="12.9" ry="11.2" fill="#f07e84"/><ellipse cx="772.2" cy="880.0" rx="12.9" ry="11.2" fill="#f07e84"/><ellipse cx="801.3" cy="957.8" rx="12.9" ry="11.2" fill="#f07e84"/><ellipse cx="835.0" cy="983.3" rx="12.9" ry="11.2" fill="#f07e84"/><ellipse cx="860.8" cy="853.0" rx="12.9" ry="11.2" fill="#f07e84"/><ellipse cx="885.8" cy="911.5" rx="12.9" ry="11.2" fill="#f07e84"/><ellipse cx="912.7" cy="926.0" rx="12.9" ry="11.2" fill="#f07e84"/><ellipse cx="940.6" cy="942.3" rx="12.9" ry="11.2" fill="#f07e84"/><ellipse cx="960.8" cy="898.1" rx="12.9" ry="11.2" fill="#f07e84"/><ellipse cx="983.5" cy="935.8" rx="12.9" ry="11.2" fill="#f07e84"/><ellipse cx="1008.8" cy="967.3" rx="12.9" ry="11.2" fill="#f07e84"/><ellipse cx="1026.2" cy="987.5" rx="12.9" ry="11.2" fill="#f07e84"/><ellipse cx="1050.2" cy="938.5" rx="12.9" ry="11.2" fill="#f07e84"/><ellipse cx="1068.5" cy="925.0" rx="12.9" ry="11.2" fill="#f07e84"/><ellipse cx="1086.7" cy="951.9" rx="12.9" ry="11.2" fill="#f07e84"/><ellipse cx="1104.0" cy="976.0" rx="12.9" ry="11.2" fill="#f07e84"/><ellipse cx="1130.5" cy="938.8" rx="12.9" ry="11.2" fill="#f07e84"/><ellipse cx="1156.0" cy="969.3" rx="12.9" ry="11.2" fill="#f07e84"/><ellipse cx="1170.3" cy="917.6" rx="12.9" ry="11.2" fill="#f07e84"/><ellipse cx="1193.2" cy="952.2" rx="12.9" ry="11.2" fill="#f07e84"/><ellipse cx="1207.0" cy="915.4" rx="12.9" ry="11.2" fill="#f07e84"/><ellipse cx="1218.5" cy="957.8" rx="12.9" ry="11.2" fill="#f07e84"/><ellipse cx="1247.0" cy="962.0" rx="12.9" ry="11.2" fill="#f07e84"/><ellipse cx="1259.2" cy="870.2" rx="12.9" ry="11.2" fill="#f07e84"/><ellipse cx="1268.0" cy="962.0" rx="12.9" ry="11.2" fill="#f07e84"/><ellipse cx="1275.0" cy="994.0" rx="12.9" ry="11.2" fill="#f07e84"/><ellipse cx="1303.7" cy="968.0" rx="12.9" ry="11.2" fill="#f07e84"/><ellipse cx="1308.5" cy="876.0" rx="12.9" ry="11.2" fill="#f07e84"/><ellipse cx="1315.4" cy="968.0" rx="12.9" ry="11.2" fill="#f07e84"/><ellipse cx="1341.0" cy="981.0" rx="12.9" ry="11.2" fill="#f07e84"/><ellipse cx="1383.0" cy="982.0" rx="12.9" ry="11.2" fill="#f07e84"/><ellipse cx="1411.0" cy="1014.8" rx="12.9" ry="11.2" fill="#f07e84"/><ellipse cx="1433.8" cy="983.0" rx="12.9" ry="11.2" fill="#f07e84"/><ellipse cx="1455.0" cy="1014.8" rx="12.9" ry="11.2" fill="#f07e84"/><ellipse cx="1475.0" cy="1014.0" rx="12.9" ry="11.2" fill="#f07e84"/><ellipse cx="1490.0" cy="1014.8" rx="12.9" ry="11.2" fill="#f07e84"/><ellipse cx="1520.0" cy="1012.0" rx="12.9" ry="11.2" fill="#f07e84"/>
<polyline points="291.7,1014.8 343.3,349.0 391.6,455.4 435.8,903.8 478.9,481.8 517.7,825.2 555.0,951.0 591.5,809.3 626.3,949.5 660.0,844.7 693.0,773.6 723.5,809.5 751.3,861.0 779.6,906.3 805.7,955.5 830.2,855.2 854.6,825.3 876.2,1011.5 898.3,972.5 918.8,865.3 937.7,985.4 957.0,961.0 977.1,1002.3 996.3,947.0 1014.6,951.4 1032.9,914.0 1048.3,968.0 1062.7,1011.5 1084.8,994.0 1105.0,975.0 1125.0,927.0 1133.5,993.0 1151.8,942.0 1166.7,976.0 1179.8,917.4 1194.3,983.0 1219.2,969.8 1240.0,952.0 1253.0,965.7 1264.6,969.6 1274.3,941.5 1285.5,974.8 1302.7,952.8 1311.6,896.0 1321.0,978.0 1329.8,1004.8 1335.0,1001.0 1341.5,1003.0 1347.0,998.0 1352.0,1002.0 1357.0,989.0 1363.2,987.0 1369.0,999.5 1375.6,940.4 1380.0,1000.0 1385.6,991.4 1391.0,999.0 1398.4,982.8 1404.0,998.0 1408.0,1001.0 1413.0,991.4 1417.5,999.0 1422.2,987.8 1428.0,1000.0 1432.0,1002.0 1437.0,1003.0 1443.0,1001.0 1449.0,997.0 1456.0,990.0 1461.0,985.0 1467.3,971.7 1472.5,984.0 1478.0,985.0 1484.0,999.0 1490.0,1008.0 1500.0,1012.0" fill="none" stroke="#268c8a" stroke-width="4.0" stroke-linejoin="round" stroke-linecap="round"/>
<path d="M343.3 335.5L329.2 355.9H357.4Z" fill="#268c8a" stroke="#268c8a" stroke-width="4" stroke-linejoin="round"/><path d="M391.6 441.9L377.5 462.3H405.7Z" fill="#268c8a" stroke="#268c8a" stroke-width="4" stroke-linejoin="round"/><path d="M435.8 890.3L421.7 910.7H449.9Z" fill="#268c8a" stroke="#268c8a" stroke-width="4" stroke-linejoin="round"/><path d="M478.9 468.3L464.8 488.7H493.0Z" fill="#268c8a" stroke="#268c8a" stroke-width="4" stroke-linejoin="round"/><path d="M517.7 811.7L503.6 832.1H531.8Z" fill="#268c8a" stroke="#268c8a" stroke-width="4" stroke-linejoin="round"/><path d="M555.0 937.5L540.9 957.9H569.1Z" fill="#268c8a" stroke="#268c8a" stroke-width="4" stroke-linejoin="round"/><path d="M591.5 795.8L577.4 816.2H605.6Z" fill="#268c8a" stroke="#268c8a" stroke-width="4" stroke-linejoin="round"/><path d="M626.3 936.0L612.2 956.4H640.4Z" fill="#268c8a" stroke="#268c8a" stroke-width="4" stroke-linejoin="round"/><path d="M660.0 831.2L645.9 851.6H674.1Z" fill="#268c8a" stroke="#268c8a" stroke-width="4" stroke-linejoin="round"/><path d="M693.0 760.1L678.9 780.5H707.1Z" fill="#268c8a" stroke="#268c8a" stroke-width="4" stroke-linejoin="round"/><path d="M723.5 796.0L709.4 816.4H737.6Z" fill="#268c8a" stroke="#268c8a" stroke-width="4" stroke-linejoin="round"/><path d="M751.3 847.5L737.2 867.9H765.4Z" fill="#268c8a" stroke="#268c8a" stroke-width="4" stroke-linejoin="round"/><path d="M779.6 892.8L765.5 913.2H793.7Z" fill="#268c8a" stroke="#268c8a" stroke-width="4" stroke-linejoin="round"/><path d="M805.7 942.0L791.6 962.4H819.8Z" fill="#268c8a" stroke="#268c8a" stroke-width="4" stroke-linejoin="round"/><path d="M830.2 841.7L816.1 862.1H844.3Z" fill="#268c8a" stroke="#268c8a" stroke-width="4" stroke-linejoin="round"/><path d="M854.6 811.8L840.5 832.2H868.7Z" fill="#268c8a" stroke="#268c8a" stroke-width="4" stroke-linejoin="round"/><path d="M876.2 998.0L862.1 1018.4H890.3Z" fill="#268c8a" stroke="#268c8a" stroke-width="4" stroke-linejoin="round"/><path d="M898.3 959.0L884.2 979.4H912.4Z" fill="#268c8a" stroke="#268c8a" stroke-width="4" stroke-linejoin="round"/><path d="M918.8 851.8L904.7 872.2H932.9Z" fill="#268c8a" stroke="#268c8a" stroke-width="4" stroke-linejoin="round"/><path d="M937.7 971.9L923.6 992.3H951.8Z" fill="#268c8a" stroke="#268c8a" stroke-width="4" stroke-linejoin="round"/><path d="M957.0 947.5L942.9 967.9H971.1Z" fill="#268c8a" stroke="#268c8a" stroke-width="4" stroke-linejoin="round"/><path d="M977.1 988.8L963.0 1009.2H991.2Z" fill="#268c8a" stroke="#268c8a" stroke-width="4" stroke-linejoin="round"/><path d="M996.3 933.5L982.2 953.9H1010.4Z" fill="#268c8a" stroke="#268c8a" stroke-width="4" stroke-linejoin="round"/><path d="M1014.6 937.9L1000.5 958.3H1028.7Z" fill="#268c8a" stroke="#268c8a" stroke-width="4" stroke-linejoin="round"/><path d="M1032.9 900.5L1018.8 920.9H1047.0Z" fill="#268c8a" stroke="#268c8a" stroke-width="4" stroke-linejoin="round"/><path d="M1048.3 954.5L1034.2 974.9H1062.4Z" fill="#268c8a" stroke="#268c8a" stroke-width="4" stroke-linejoin="round"/><path d="M1062.7 998.0L1048.6 1018.4H1076.8Z" fill="#268c8a" stroke="#268c8a" stroke-width="4" stroke-linejoin="round"/><path d="M1084.8 980.5L1070.7 1000.9H1098.9Z" fill="#268c8a" stroke="#268c8a" stroke-width="4" stroke-linejoin="round"/><path d="M1105.0 961.5L1090.9 981.9H1119.1Z" fill="#268c8a" stroke="#268c8a" stroke-width="4" stroke-linejoin="round"/><path d="M1125.0 913.5L1110.9 933.9H1139.1Z" fill="#268c8a" stroke="#268c8a" stroke-width="4" stroke-linejoin="round"/><path d="M1133.5 979.5L1119.4 999.9H1147.6Z" fill="#268c8a" stroke="#268c8a" stroke-width="4" stroke-linejoin="round"/><path d="M1151.8 928.5L1137.7 948.9H1165.9Z" fill="#268c8a" stroke="#268c8a" stroke-width="4" stroke-linejoin="round"/><path d="M1166.7 962.5L1152.6 982.9H1180.8Z" fill="#268c8a" stroke="#268c8a" stroke-width="4" stroke-linejoin="round"/><path d="M1179.8 903.9L1165.7 924.3H1193.9Z" fill="#268c8a" stroke="#268c8a" stroke-width="4" stroke-linejoin="round"/><path d="M1194.3 969.5L1180.2 989.9H1208.4Z" fill="#268c8a" stroke="#268c8a" stroke-width="4" stroke-linejoin="round"/><path d="M1219.2 956.3L1205.1 976.7H1233.3Z" fill="#268c8a" stroke="#268c8a" stroke-width="4" stroke-linejoin="round"/><path d="M1240.0 938.5L1225.9 958.9H1254.1Z" fill="#268c8a" stroke="#268c8a" stroke-width="4" stroke-linejoin="round"/><path d="M1253.0 952.2L1238.9 972.6H1267.1Z" fill="#268c8a" stroke="#268c8a" stroke-width="4" stroke-linejoin="round"/><path d="M1264.6 956.1L1250.5 976.5H1278.7Z" fill="#268c8a" stroke="#268c8a" stroke-width="4" stroke-linejoin="round"/><path d="M1274.3 928.0L1260.2 948.4H1288.4Z" fill="#268c8a" stroke="#268c8a" stroke-width="4" stroke-linejoin="round"/><path d="M1285.5 961.3L1271.4 981.7H1299.6Z" fill="#268c8a" stroke="#268c8a" stroke-width="4" stroke-linejoin="round"/><path d="M1302.7 939.3L1288.6 959.7H1316.8Z" fill="#268c8a" stroke="#268c8a" stroke-width="4" stroke-linejoin="round"/><path d="M1311.6 882.5L1297.5 902.9H1325.7Z" fill="#268c8a" stroke="#268c8a" stroke-width="4" stroke-linejoin="round"/><path d="M1321.0 964.5L1306.9 984.9H1335.1Z" fill="#268c8a" stroke="#268c8a" stroke-width="4" stroke-linejoin="round"/><path d="M1329.8 991.3L1315.7 1011.7H1343.9Z" fill="#268c8a" stroke="#268c8a" stroke-width="4" stroke-linejoin="round"/><path d="M1335.0 987.5L1320.9 1007.9H1349.1Z" fill="#268c8a" stroke="#268c8a" stroke-width="4" stroke-linejoin="round"/><path d="M1341.5 989.5L1327.4 1009.9H1355.6Z" fill="#268c8a" stroke="#268c8a" stroke-width="4" stroke-linejoin="round"/><path d="M1347.0 984.5L1332.9 1004.9H1361.1Z" fill="#268c8a" stroke="#268c8a" stroke-width="4" stroke-linejoin="round"/><path d="M1352.0 988.5L1337.9 1008.9H1366.1Z" fill="#268c8a" stroke="#268c8a" stroke-width="4" stroke-linejoin="round"/><path d="M1357.0 975.5L1342.9 995.9H1371.1Z" fill="#268c8a" stroke="#268c8a" stroke-width="4" stroke-linejoin="round"/><path d="M1363.2 973.5L1349.1 993.9H1377.3Z" fill="#268c8a" stroke="#268c8a" stroke-width="4" stroke-linejoin="round"/><path d="M1369.0 986.0L1354.9 1006.4H1383.1Z" fill="#268c8a" stroke="#268c8a" stroke-width="4" stroke-linejoin="round"/><path d="M1375.6 926.9L1361.5 947.3H1389.7Z" fill="#268c8a" stroke="#268c8a" stroke-width="4" stroke-linejoin="round"/><path d="M1380.0 986.5L1365.9 1006.9H1394.1Z" fill="#268c8a" stroke="#268c8a" stroke-width="4" stroke-linejoin="round"/><path d="M1385.6 977.9L1371.5 998.3H1399.7Z" fill="#268c8a" stroke="#268c8a" stroke-width="4" stroke-linejoin="round"/><path d="M1391.0 985.5L1376.9 1005.9H1405.1Z" fill="#268c8a" stroke="#268c8a" stroke-width="4" stroke-linejoin="round"/><path d="M1398.4 969.3L1384.3 989.7H1412.5Z" fill="#268c8a" stroke="#268c8a" stroke-width="4" stroke-linejoin="round"/><path d="M1404.0 984.5L1389.9 1004.9H1418.1Z" fill="#268c8a" stroke="#268c8a" stroke-width="4" stroke-linejoin="round"/><path d="M1408.0 987.5L1393.9 1007.9H1422.1Z" fill="#268c8a" stroke="#268c8a" stroke-width="4" stroke-linejoin="round"/><path d="M1413.0 977.9L1398.9 998.3H1427.1Z" fill="#268c8a" stroke="#268c8a" stroke-width="4" stroke-linejoin="round"/><path d="M1417.5 985.5L1403.4 1005.9H1431.6Z" fill="#268c8a" stroke="#268c8a" stroke-width="4" stroke-linejoin="round"/><path d="M1422.2 974.3L1408.1 994.7H1436.3Z" fill="#268c8a" stroke="#268c8a" stroke-width="4" stroke-linejoin="round"/><path d="M1428.0 986.5L1413.9 1006.9H1442.1Z" fill="#268c8a" stroke="#268c8a" stroke-width="4" stroke-linejoin="round"/><path d="M1432.0 988.5L1417.9 1008.9H1446.1Z" fill="#268c8a" stroke="#268c8a" stroke-width="4" stroke-linejoin="round"/><path d="M1437.0 989.5L1422.9 1009.9H1451.1Z" fill="#268c8a" stroke="#268c8a" stroke-width="4" stroke-linejoin="round"/><path d="M1443.0 987.5L1428.9 1007.9H1457.1Z" fill="#268c8a" stroke="#268c8a" stroke-width="4" stroke-linejoin="round"/><path d="M1449.0 983.5L1434.9 1003.9H1463.1Z" fill="#268c8a" stroke="#268c8a" stroke-width="4" stroke-linejoin="round"/><path d="M1456.0 976.5L1441.9 996.9H1470.1Z" fill="#268c8a" stroke="#268c8a" stroke-width="4" stroke-linejoin="round"/><path d="M1461.0 971.5L1446.9 991.9H1475.1Z" fill="#268c8a" stroke="#268c8a" stroke-width="4" stroke-linejoin="round"/><path d="M1467.3 958.2L1453.2 978.6H1481.4Z" fill="#268c8a" stroke="#268c8a" stroke-width="4" stroke-linejoin="round"/><path d="M1472.5 970.5L1458.4 990.9H1486.6Z" fill="#268c8a" stroke="#268c8a" stroke-width="4" stroke-linejoin="round"/><path d="M1478.0 971.5L1463.9 991.9H1492.1Z" fill="#268c8a" stroke="#268c8a" stroke-width="4" stroke-linejoin="round"/><path d="M1484.0 985.5L1469.9 1005.9H1498.1Z" fill="#268c8a" stroke="#268c8a" stroke-width="4" stroke-linejoin="round"/><path d="M1490.0 994.5L1475.9 1014.9H1504.1Z" fill="#268c8a" stroke="#268c8a" stroke-width="4" stroke-linejoin="round"/><path d="M1500.0 998.5L1485.9 1018.9H1514.1Z" fill="#268c8a" stroke="#268c8a" stroke-width="4" stroke-linejoin="round"/>
</g>
<g clip-path="url(#orgclip2)">
<polyline points="291.7,1014.8 306.3,499.3 320.3,344.8 382.7,689.9 451.1,841.0 515.8,957.3 576.4,820.8 632.6,810.4 683.5,816.0 729.0,576.6 768.2,856.2 804.0,905.4 838.0,997.0 868.5,883.7 898.3,897.7 925.6,950.6 951.2,977.5 975.2,949.6 999.2,956.4 1019.4,912.1 1037.7,981.4 1060.8,990.0 1077.0,986.0 1089.6,967.0 1104.0,942.9 1122.8,968.3 1139.0,981.5 1153.0,990.0 1166.0,1000.0 1181.0,996.0 1194.4,969.5 1207.0,1000.0 1221.0,1002.0 1225.6,1003.9 1230.2,987.9 1234.8,1004.1 1239.4,987.9 1244.0,1003.8 1248.6,988.1 1253.2,1004.6 1257.8,988.4 1262.4,1004.5 1267.0,988.0 1271.6,1004.2 1276.2,994.6 1280.8,1003.9 1285.4,994.5 1290.0,1003.9 1294.6,995.1 1299.2,1004.5 1303.8,995.0 1308.4,1004.5 1313.0,994.6 1317.6,1004.0 1322.2,994.9 1326.8,1004.4 1331.4,995.1 1336.0,1005.1 1340.6,1004.5 1345.2,1004.9 1349.8,1004.9 1354.4,1004.8 1359.0,1004.5 1363.6,1004.8 1368.2,1004.5 1372.8,1005.1 1377.4,1005.1 1382.0,1004.8 1386.6,1004.6 1391.2,1005.1 1395.8,1004.9 1400.4,1005.1 1405.0,1005.1 1409.6,1004.8 1414.2,1004.7 1418.8,1004.9 1423.4,1004.7 1428.0,1004.5 1432.6,1004.6 1437.2,1005.1 1441.8,1004.4 1446.4,1004.4 1451.0,1004.9 1455.6,1004.6 1460.2,1004.8 1464.8,1004.8 1469.4,1004.7 1474.0,1005.2 1478.6,1004.6 1483.2,1004.7 1487.8,1004.6 1492.4,1004.9 1497.0,1004.6 1501.6,1004.7 1506.2,1005.0 1510.8,1004.7 1515.4,1004.8 1520.0,1005.1 1524.6,1004.5 1529.2,1004.4 1533.8,1004.6 1538.4,1005.0 1543.0,1004.9 1547.6,1004.6 1552.2,1004.7 1556.8,1004.5 1561.4,1004.8 1564.0,1004.6" fill="none" stroke="#faa25e" stroke-width="4.0" stroke-linejoin="round" stroke-linecap="round"/>
<path d="M306.3 512.8L292.2 492.4H320.4Z" fill="#faa25e" stroke="#faa25e" stroke-width="4" stroke-linejoin="round"/><path d="M320.3 358.3L306.2 337.9H334.4Z" fill="#faa25e" stroke="#faa25e" stroke-width="4" stroke-linejoin="round"/><path d="M382.7 703.4L368.6 683.0H396.8Z" fill="#faa25e" stroke="#faa25e" stroke-width="4" stroke-linejoin="round"/><path d="M451.1 854.5L437.0 834.1H465.2Z" fill="#faa25e" stroke="#faa25e" stroke-width="4" stroke-linejoin="round"/><path d="M515.8 970.8L501.7 950.4H529.9Z" fill="#faa25e" stroke="#faa25e" stroke-width="4" stroke-linejoin="round"/><path d="M576.4 834.3L562.3 813.9H590.5Z" fill="#faa25e" stroke="#faa25e" stroke-width="4" stroke-linejoin="round"/><path d="M632.6 823.9L618.5 803.5H646.7Z" fill="#faa25e" stroke="#faa25e" stroke-width="4" stroke-linejoin="round"/><path d="M683.5 829.5L669.4 809.1H697.6Z" fill="#faa25e" stroke="#faa25e" stroke-width="4" stroke-linejoin="round"/><path d="M729.0 590.1L714.9 569.7H743.1Z" fill="#faa25e" stroke="#faa25e" stroke-width="4" stroke-linejoin="round"/><path d="M768.2 869.7L754.1 849.3H782.3Z" fill="#faa25e" stroke="#faa25e" stroke-width="4" stroke-linejoin="round"/><path d="M804.0 918.9L789.9 898.5H818.1Z" fill="#faa25e" stroke="#faa25e" stroke-width="4" stroke-linejoin="round"/><path d="M838.0 1010.5L823.9 990.1H852.1Z" fill="#faa25e" stroke="#faa25e" stroke-width="4" stroke-linejoin="round"/><path d="M868.5 897.2L854.4 876.8H882.6Z" fill="#faa25e" stroke="#faa25e" stroke-width="4" stroke-linejoin="round"/><path d="M898.3 911.2L884.2 890.8H912.4Z" fill="#faa25e" stroke="#faa25e" stroke-width="4" stroke-linejoin="round"/><path d="M925.6 964.1L911.5 943.7H939.7Z" fill="#faa25e" stroke="#faa25e" stroke-width="4" stroke-linejoin="round"/><path d="M951.2 991.0L937.1 970.6H965.3Z" fill="#faa25e" stroke="#faa25e" stroke-width="4" stroke-linejoin="round"/><path d="M975.2 963.1L961.1 942.7H989.3Z" fill="#faa25e" stroke="#faa25e" stroke-width="4" stroke-linejoin="round"/><path d="M999.2 969.9L985.1 949.5H1013.3Z" fill="#faa25e" stroke="#faa25e" stroke-width="4" stroke-linejoin="round"/><path d="M1019.4 925.6L1005.3 905.2H1033.5Z" fill="#faa25e" stroke="#faa25e" stroke-width="4" stroke-linejoin="round"/><path d="M1037.7 994.9L1023.6 974.5H1051.8Z" fill="#faa25e" stroke="#faa25e" stroke-width="4" stroke-linejoin="round"/><path d="M1060.8 1003.5L1046.7 983.1H1074.9Z" fill="#faa25e" stroke="#faa25e" stroke-width="4" stroke-linejoin="round"/><path d="M1077.0 999.5L1062.9 979.1H1091.1Z" fill="#faa25e" stroke="#faa25e" stroke-width="4" stroke-linejoin="round"/><path d="M1089.6 980.5L1075.5 960.1H1103.7Z" fill="#faa25e" stroke="#faa25e" stroke-width="4" stroke-linejoin="round"/><path d="M1104.0 956.4L1089.9 936.0H1118.1Z" fill="#faa25e" stroke="#faa25e" stroke-width="4" stroke-linejoin="round"/><path d="M1122.8 981.8L1108.7 961.4H1136.9Z" fill="#faa25e" stroke="#faa25e" stroke-width="4" stroke-linejoin="round"/><path d="M1139.0 995.0L1124.9 974.6H1153.1Z" fill="#faa25e" stroke="#faa25e" stroke-width="4" stroke-linejoin="round"/><path d="M1153.0 1003.5L1138.9 983.1H1167.1Z" fill="#faa25e" stroke="#faa25e" stroke-width="4" stroke-linejoin="round"/><path d="M1166.0 1013.5L1151.9 993.1H1180.1Z" fill="#faa25e" stroke="#faa25e" stroke-width="4" stroke-linejoin="round"/><path d="M1181.0 1009.5L1166.9 989.1H1195.1Z" fill="#faa25e" stroke="#faa25e" stroke-width="4" stroke-linejoin="round"/><path d="M1194.4 983.0L1180.3 962.6H1208.5Z" fill="#faa25e" stroke="#faa25e" stroke-width="4" stroke-linejoin="round"/><path d="M1207.0 1013.5L1192.9 993.1H1221.1Z" fill="#faa25e" stroke="#faa25e" stroke-width="4" stroke-linejoin="round"/><path d="M1221.0 1015.5L1206.9 995.1H1235.1Z" fill="#faa25e" stroke="#faa25e" stroke-width="4" stroke-linejoin="round"/><path d="M1225.6 1017.4L1211.5 997.0H1239.7Z" fill="#faa25e" stroke="#faa25e" stroke-width="4" stroke-linejoin="round"/><path d="M1230.2 1001.4L1216.1 981.0H1244.3Z" fill="#faa25e" stroke="#faa25e" stroke-width="4" stroke-linejoin="round"/><path d="M1234.8 1017.6L1220.7 997.2H1248.9Z" fill="#faa25e" stroke="#faa25e" stroke-width="4" stroke-linejoin="round"/><path d="M1239.4 1001.4L1225.3 981.0H1253.5Z" fill="#faa25e" stroke="#faa25e" stroke-width="4" stroke-linejoin="round"/><path d="M1244.0 1017.3L1229.9 996.9H1258.1Z" fill="#faa25e" stroke="#faa25e" stroke-width="4" stroke-linejoin="round"/><path d="M1248.6 1001.6L1234.5 981.2H1262.7Z" fill="#faa25e" stroke="#faa25e" stroke-width="4" stroke-linejoin="round"/><path d="M1253.2 1018.1L1239.1 997.7H1267.3Z" fill="#faa25e" stroke="#faa25e" stroke-width="4" stroke-linejoin="round"/><path d="M1257.8 1001.9L1243.7 981.5H1271.9Z" fill="#faa25e" stroke="#faa25e" stroke-width="4" stroke-linejoin="round"/><path d="M1262.4 1018.0L1248.3 997.6H1276.5Z" fill="#faa25e" stroke="#faa25e" stroke-width="4" stroke-linejoin="round"/><path d="M1267.0 1001.5L1252.9 981.1H1281.1Z" fill="#faa25e" stroke="#faa25e" stroke-width="4" stroke-linejoin="round"/><path d="M1271.6 1017.7L1257.5 997.3H1285.7Z" fill="#faa25e" stroke="#faa25e" stroke-width="4" stroke-linejoin="round"/><path d="M1276.2 1008.1L1262.1 987.7H1290.3Z" fill="#faa25e" stroke="#faa25e" stroke-width="4" stroke-linejoin="round"/><path d="M1280.8 1017.4L1266.7 997.0H1294.9Z" fill="#faa25e" stroke="#faa25e" stroke-width="4" stroke-linejoin="round"/><path d="M1285.4 1008.0L1271.3 987.6H1299.5Z" fill="#faa25e" stroke="#faa25e" stroke-width="4" stroke-linejoin="round"/><path d="M1290.0 1017.4L1275.9 997.0H1304.1Z" fill="#faa25e" stroke="#faa25e" stroke-width="4" stroke-linejoin="round"/><path d="M1294.6 1008.6L1280.5 988.2H1308.7Z" fill="#faa25e" stroke="#faa25e" stroke-width="4" stroke-linejoin="round"/><path d="M1299.2 1018.0L1285.1 997.6H1313.3Z" fill="#faa25e" stroke="#faa25e" stroke-width="4" stroke-linejoin="round"/><path d="M1303.8 1008.5L1289.7 988.1H1317.9Z" fill="#faa25e" stroke="#faa25e" stroke-width="4" stroke-linejoin="round"/><path d="M1308.4 1018.0L1294.3 997.6H1322.5Z" fill="#faa25e" stroke="#faa25e" stroke-width="4" stroke-linejoin="round"/><path d="M1313.0 1008.1L1298.9 987.7H1327.1Z" fill="#faa25e" stroke="#faa25e" stroke-width="4" stroke-linejoin="round"/><path d="M1317.6 1017.5L1303.5 997.1H1331.7Z" fill="#faa25e" stroke="#faa25e" stroke-width="4" stroke-linejoin="round"/><path d="M1322.2 1008.4L1308.1 988.0H1336.3Z" fill="#faa25e" stroke="#faa25e" stroke-width="4" stroke-linejoin="round"/><path d="M1326.8 1017.9L1312.7 997.5H1340.9Z" fill="#faa25e" stroke="#faa25e" stroke-width="4" stroke-linejoin="round"/><path d="M1331.4 1008.6L1317.3 988.2H1345.5Z" fill="#faa25e" stroke="#faa25e" stroke-width="4" stroke-linejoin="round"/><path d="M1336.0 1018.6L1321.9 998.2H1350.1Z" fill="#faa25e" stroke="#faa25e" stroke-width="4" stroke-linejoin="round"/><path d="M1340.6 1018.0L1326.5 997.6H1354.7Z" fill="#faa25e" stroke="#faa25e" stroke-width="4" stroke-linejoin="round"/><path d="M1345.2 1018.4L1331.1 998.0H1359.3Z" fill="#faa25e" stroke="#faa25e" stroke-width="4" stroke-linejoin="round"/><path d="M1349.8 1018.4L1335.7 998.0H1363.9Z" fill="#faa25e" stroke="#faa25e" stroke-width="4" stroke-linejoin="round"/><path d="M1354.4 1018.3L1340.3 997.9H1368.5Z" fill="#faa25e" stroke="#faa25e" stroke-width="4" stroke-linejoin="round"/><path d="M1359.0 1018.0L1344.9 997.6H1373.1Z" fill="#faa25e" stroke="#faa25e" stroke-width="4" stroke-linejoin="round"/><path d="M1363.6 1018.3L1349.5 997.9H1377.7Z" fill="#faa25e" stroke="#faa25e" stroke-width="4" stroke-linejoin="round"/><path d="M1368.2 1018.0L1354.1 997.6H1382.3Z" fill="#faa25e" stroke="#faa25e" stroke-width="4" stroke-linejoin="round"/><path d="M1372.8 1018.6L1358.7 998.2H1386.9Z" fill="#faa25e" stroke="#faa25e" stroke-width="4" stroke-linejoin="round"/><path d="M1377.4 1018.6L1363.3 998.2H1391.5Z" fill="#faa25e" stroke="#faa25e" stroke-width="4" stroke-linejoin="round"/><path d="M1382.0 1018.3L1367.9 997.9H1396.1Z" fill="#faa25e" stroke="#faa25e" stroke-width="4" stroke-linejoin="round"/><path d="M1386.6 1018.1L1372.5 997.7H1400.7Z" fill="#faa25e" stroke="#faa25e" stroke-width="4" stroke-linejoin="round"/><path d="M1391.2 1018.6L1377.1 998.2H1405.3Z" fill="#faa25e" stroke="#faa25e" stroke-width="4" stroke-linejoin="round"/><path d="M1395.8 1018.4L1381.7 998.0H1409.9Z" fill="#faa25e" stroke="#faa25e" stroke-width="4" stroke-linejoin="round"/><path d="M1400.4 1018.6L1386.3 998.2H1414.5Z" fill="#faa25e" stroke="#faa25e" stroke-width="4" stroke-linejoin="round"/><path d="M1405.0 1018.6L1390.9 998.2H1419.1Z" fill="#faa25e" stroke="#faa25e" stroke-width="4" stroke-linejoin="round"/><path d="M1409.6 1018.3L1395.5 997.9H1423.7Z" fill="#faa25e" stroke="#faa25e" stroke-width="4" stroke-linejoin="round"/><path d="M1414.2 1018.2L1400.1 997.8H1428.3Z" fill="#faa25e" stroke="#faa25e" stroke-width="4" stroke-linejoin="round"/><path d="M1418.8 1018.4L1404.7 998.0H1432.9Z" fill="#faa25e" stroke="#faa25e" stroke-width="4" stroke-linejoin="round"/><path d="M1423.4 1018.2L1409.3 997.8H1437.5Z" fill="#faa25e" stroke="#faa25e" stroke-width="4" stroke-linejoin="round"/><path d="M1428.0 1018.0L1413.9 997.6H1442.1Z" fill="#faa25e" stroke="#faa25e" stroke-width="4" stroke-linejoin="round"/><path d="M1432.6 1018.1L1418.5 997.7H1446.7Z" fill="#faa25e" stroke="#faa25e" stroke-width="4" stroke-linejoin="round"/><path d="M1437.2 1018.6L1423.1 998.2H1451.3Z" fill="#faa25e" stroke="#faa25e" stroke-width="4" stroke-linejoin="round"/><path d="M1441.8 1017.9L1427.7 997.5H1455.9Z" fill="#faa25e" stroke="#faa25e" stroke-width="4" stroke-linejoin="round"/><path d="M1446.4 1017.9L1432.3 997.5H1460.5Z" fill="#faa25e" stroke="#faa25e" stroke-width="4" stroke-linejoin="round"/><path d="M1451.0 1018.4L1436.9 998.0H1465.1Z" fill="#faa25e" stroke="#faa25e" stroke-width="4" stroke-linejoin="round"/><path d="M1455.6 1018.1L1441.5 997.7H1469.7Z" fill="#faa25e" stroke="#faa25e" stroke-width="4" stroke-linejoin="round"/><path d="M1460.2 1018.3L1446.1 997.9H1474.3Z" fill="#faa25e" stroke="#faa25e" stroke-width="4" stroke-linejoin="round"/><path d="M1464.8 1018.3L1450.7 997.9H1478.9Z" fill="#faa25e" stroke="#faa25e" stroke-width="4" stroke-linejoin="round"/><path d="M1469.4 1018.2L1455.3 997.8H1483.5Z" fill="#faa25e" stroke="#faa25e" stroke-width="4" stroke-linejoin="round"/><path d="M1474.0 1018.7L1459.9 998.3H1488.1Z" fill="#faa25e" stroke="#faa25e" stroke-width="4" stroke-linejoin="round"/><path d="M1478.6 1018.1L1464.5 997.7H1492.7Z" fill="#faa25e" stroke="#faa25e" stroke-width="4" stroke-linejoin="round"/><path d="M1483.2 1018.2L1469.1 997.8H1497.3Z" fill="#faa25e" stroke="#faa25e" stroke-width="4" stroke-linejoin="round"/><path d="M1487.8 1018.1L1473.7 997.7H1501.9Z" fill="#faa25e" stroke="#faa25e" stroke-width="4" stroke-linejoin="round"/><path d="M1492.4 1018.4L1478.3 998.0H1506.5Z" fill="#faa25e" stroke="#faa25e" stroke-width="4" stroke-linejoin="round"/><path d="M1497.0 1018.1L1482.9 997.7H1511.1Z" fill="#faa25e" stroke="#faa25e" stroke-width="4" stroke-linejoin="round"/><path d="M1501.6 1018.2L1487.5 997.8H1515.7Z" fill="#faa25e" stroke="#faa25e" stroke-width="4" stroke-linejoin="round"/><path d="M1506.2 1018.5L1492.1 998.1H1520.3Z" fill="#faa25e" stroke="#faa25e" stroke-width="4" stroke-linejoin="round"/><path d="M1510.8 1018.2L1496.7 997.8H1524.9Z" fill="#faa25e" stroke="#faa25e" stroke-width="4" stroke-linejoin="round"/><path d="M1515.4 1018.3L1501.3 997.9H1529.5Z" fill="#faa25e" stroke="#faa25e" stroke-width="4" stroke-linejoin="round"/><path d="M1520.0 1018.6L1505.9 998.2H1534.1Z" fill="#faa25e" stroke="#faa25e" stroke-width="4" stroke-linejoin="round"/><path d="M1524.6 1018.0L1510.5 997.6H1538.7Z" fill="#faa25e" stroke="#faa25e" stroke-width="4" stroke-linejoin="round"/><path d="M1529.2 1017.9L1515.1 997.5H1543.3Z" fill="#faa25e" stroke="#faa25e" stroke-width="4" stroke-linejoin="round"/><path d="M1533.8 1018.1L1519.7 997.7H1547.9Z" fill="#faa25e" stroke="#faa25e" stroke-width="4" stroke-linejoin="round"/><path d="M1538.4 1018.5L1524.3 998.1H1552.5Z" fill="#faa25e" stroke="#faa25e" stroke-width="4" stroke-linejoin="round"/><path d="M1543.0 1018.4L1528.9 998.0H1557.1Z" fill="#faa25e" stroke="#faa25e" stroke-width="4" stroke-linejoin="round"/><path d="M1547.6 1018.1L1533.5 997.7H1561.7Z" fill="#faa25e" stroke="#faa25e" stroke-width="4" stroke-linejoin="round"/><path d="M1552.2 1018.2L1538.1 997.8H1566.3Z" fill="#faa25e" stroke="#faa25e" stroke-width="4" stroke-linejoin="round"/><path d="M1556.8 1018.0L1542.7 997.6H1570.9Z" fill="#faa25e" stroke="#faa25e" stroke-width="4" stroke-linejoin="round"/><path d="M1561.4 1018.3L1547.3 997.9H1575.5Z" fill="#faa25e" stroke="#faa25e" stroke-width="4" stroke-linejoin="round"/><path d="M1564.0 1018.1L1549.9 997.7H1578.1Z" fill="#faa25e" stroke="#faa25e" stroke-width="4" stroke-linejoin="round"/>
</g>
<g clip-path="url(#orgclip)"><path d="M291.7 1028.3L277.6 1007.9H305.8Z" fill="#faa25e" stroke="#faa25e" stroke-width="4" stroke-linejoin="round"/></g>
<rect x="291.7" y="69.8" width="1416.3" height="945.0" fill="none" stroke="#1a1a1a" stroke-width="3.8"/>
<path d="M291.7 857.3h19M291.7 699.8h19M291.7 542.3h19M291.7 384.8h19M291.7 227.3h19M645.8 1014.8v-16.4M999.8 1014.8v-16.4M1353.9 1014.8v-16.4" stroke="#1a1a1a" stroke-width="3.8" fill="none"/>
<line x1="468.4" y1="69.8" x2="468.4" y2="1014.8" stroke="#1a1a1a" stroke-width="4" stroke-dasharray="20.4 20.2" stroke-dashoffset="10.2"/>
<line x1="1353.6" y1="69.8" x2="1353.6" y2="1014.8" stroke="#1a1a1a" stroke-width="4" stroke-dasharray="20.4 20.2" stroke-dashoffset="10.2"/>
<line x1="335.2" y1="337.1" x2="525.1" y2="252.7" stroke="#faa25e" stroke-width="3.8"/><path d="M553.4 240.1L525.8 259.3L520.7 247.7Z" fill="#faa25e"/>
<g clip-path="url(#plotclip)"><polyline points="320.0,649.6 343.3,349.0" fill="none" stroke="#268c8a" stroke-width="4.0" stroke-linejoin="round" stroke-linecap="round"/>
<path d="M343.3 335.5L329.2 355.9H357.4Z" fill="#268c8a" stroke="#268c8a" stroke-width="4" stroke-linejoin="round"/></g>
<line x1="331.0" y1="178.7" x2="946.2" y2="103.2" stroke="#f07e84" stroke-width="4.0"/><path d="M979.9 99.1L945.0 110.4L943.3 96.5Z" fill="#f07e84"/>
<line x1="343.3" y1="351.2" x2="977.8" y2="446.7" stroke="#268c8a" stroke-width="3.8"/><path d="M1011.4 451.8L974.8 453.4L976.8 439.5Z" fill="#268c8a"/>
<line x1="469.9" y1="456.7" x2="970.5" y2="586.7" stroke="#445e92" stroke-width="4.3"/><path d="M1003.4 595.2L966.8 592.9L970.3 579.4Z" fill="#445e92"/>
<clipPath id="ic4"><rect x="557.5" y="165.1" width="225.3" height="131.4"/></clipPath>
<rect x="557.5" y="165.1" width="225.3" height="131.4" fill="#f4f4f6"/>
<rect x="557.5" y="165.1" width="12.7" height="131.4" fill="#ffffff"/>
<g clip-path="url(#ic4)"><ellipse cx="690.1" cy="233.5" rx="52.6" ry="43.8" fill="#42936a"/><ellipse cx="690.1" cy="233.5" rx="52.0" ry="43.2" fill="url(#spk)"/><ellipse cx="636.6" cy="157.3" rx="52.6" ry="43.8" fill="#42936a"/><ellipse cx="636.6" cy="157.3" rx="52.0" ry="43.2" fill="url(#spk)"/><ellipse cx="744.8" cy="157.0" rx="52.6" ry="43.8" fill="#42936a"/><ellipse cx="744.8" cy="157.0" rx="52.0" ry="43.2" fill="url(#spk)"/><ellipse cx="796.9" cy="233.2" rx="52.6" ry="43.8" fill="#42936a"/><ellipse cx="796.9" cy="233.2" rx="52.0" ry="43.2" fill="url(#spk)"/><ellipse cx="636.6" cy="309.5" rx="52.6" ry="43.8" fill="#42936a"/><ellipse cx="636.6" cy="309.5" rx="52.0" ry="43.2" fill="url(#spk)"/><ellipse cx="744.8" cy="309.7" rx="52.6" ry="43.8" fill="#42936a"/><ellipse cx="744.8" cy="309.7" rx="52.0" ry="43.2" fill="url(#spk)"/><path d="M578.9 227.9H622.9Q633.9 228.3 639.9 233.0Q633.9 237.7 622.9 238.1H578.9Z" fill="#2456ab"/></g>
<rect x="555.4" y="163.0" width="229.5" height="135.6" fill="none" stroke="#1a1a1a" stroke-width="4.2"/>
<clipPath id="ic2"><rect x="985.9" y="91.8" width="227.8" height="130.1"/></clipPath>
<rect x="985.9" y="91.8" width="227.8" height="130.1" fill="#f4f4f6"/>
<rect x="985.9" y="91.8" width="12.6" height="130.1" fill="#ffffff"/>
<g clip-path="url(#ic2)"><ellipse cx="1122.7" cy="157.7" rx="40.8" ry="34.0" fill="#42936a"/><ellipse cx="1122.7" cy="157.7" rx="40.2" ry="33.4" fill="url(#spk)"/><ellipse cx="1081.3" cy="97.7" rx="40.8" ry="34.0" fill="#42936a"/><ellipse cx="1081.3" cy="97.7" rx="40.2" ry="33.4" fill="url(#spk)"/><ellipse cx="1164.8" cy="97.7" rx="40.8" ry="34.0" fill="#42936a"/><ellipse cx="1164.8" cy="97.7" rx="40.2" ry="33.4" fill="url(#spk)"/><ellipse cx="1248.0" cy="97.7" rx="40.8" ry="34.0" fill="#42936a"/><ellipse cx="1248.0" cy="97.7" rx="40.2" ry="33.4" fill="url(#spk)"/><ellipse cx="1206.1" cy="157.6" rx="40.8" ry="34.0" fill="#42936a"/><ellipse cx="1206.1" cy="157.6" rx="40.2" ry="33.4" fill="url(#spk)"/><ellipse cx="1081.3" cy="217.3" rx="40.8" ry="34.0" fill="#42936a"/><ellipse cx="1081.3" cy="217.3" rx="40.2" ry="33.4" fill="url(#spk)"/><ellipse cx="1164.8" cy="217.3" rx="40.8" ry="34.0" fill="#42936a"/><ellipse cx="1164.8" cy="217.3" rx="40.2" ry="33.4" fill="url(#spk)"/><ellipse cx="1248.0" cy="217.3" rx="40.8" ry="34.0" fill="#42936a"/><ellipse cx="1248.0" cy="217.3" rx="40.2" ry="33.4" fill="url(#spk)"/><path d="M1016.2 151.2H1065.4Q1077.5 151.6 1084.0 156.8Q1077.5 162.1 1065.4 162.5H1016.2Z" fill="#2456ab"/></g>
<rect x="983.8" y="89.7" width="232.0" height="134.3" fill="none" stroke="#1a1a1a" stroke-width="4.2"/>
<clipPath id="ic3"><rect x="1016.1" y="343.7" width="219.7" height="130.1"/></clipPath>
<rect x="1016.1" y="343.7" width="219.7" height="130.1" fill="#f4f4f6"/>
<rect x="1016.1" y="343.7" width="6.8" height="130.1" fill="#ffffff"/>
<g clip-path="url(#ic3)"><ellipse cx="1142.8" cy="408.1" rx="50.8" ry="41.8" fill="#42936a"/><ellipse cx="1142.8" cy="408.1" rx="50.2" ry="41.2" fill="url(#spk)"/><ellipse cx="1093.3" cy="335.0" rx="50.2" ry="41.8" fill="#42936a"/><ellipse cx="1093.3" cy="335.0" rx="49.6" ry="41.2" fill="url(#spk)"/><ellipse cx="1196.2" cy="334.6" rx="50.2" ry="41.8" fill="#42936a"/><ellipse cx="1196.2" cy="334.6" rx="49.6" ry="41.2" fill="url(#spk)"/><ellipse cx="1246.4" cy="408.0" rx="50.8" ry="41.8" fill="#42936a"/><ellipse cx="1246.4" cy="408.0" rx="50.2" ry="41.2" fill="url(#spk)"/><ellipse cx="1093.3" cy="480.7" rx="50.2" ry="41.8" fill="#42936a"/><ellipse cx="1093.3" cy="480.7" rx="49.6" ry="41.2" fill="url(#spk)"/><ellipse cx="1196.2" cy="480.7" rx="50.2" ry="41.8" fill="#42936a"/><ellipse cx="1196.2" cy="480.7" rx="49.6" ry="41.2" fill="url(#spk)"/><path d="M1031.8 400.8H1084.4Q1097.4 401.2 1104.4 407.0Q1097.4 412.8 1084.4 413.2H1031.8Z" fill="#2456ab"/></g>
<rect x="1014.0" y="341.6" width="223.9" height="134.3" fill="none" stroke="#1a1a1a" stroke-width="4.2"/>
<clipPath id="ic1"><rect x="1006.5" y="549.3" width="212.5" height="128.4"/></clipPath>
<rect x="1006.5" y="549.3" width="212.5" height="128.4" fill="#f4f4f6"/>
<g clip-path="url(#ic1)"><ellipse cx="1134.8" cy="530.8" rx="28.5" ry="24.1" fill="#42936a"/><ellipse cx="1134.8" cy="530.8" rx="27.9" ry="23.5" fill="url(#spk)"/><ellipse cx="1193.1" cy="530.8" rx="28.5" ry="24.1" fill="#42936a"/><ellipse cx="1193.1" cy="530.8" rx="27.9" ry="23.5" fill="url(#spk)"/><ellipse cx="1105.7" cy="572.8" rx="28.5" ry="24.1" fill="#42936a"/><ellipse cx="1105.7" cy="572.8" rx="27.9" ry="23.5" fill="url(#spk)"/><ellipse cx="1164.0" cy="572.7" rx="28.5" ry="24.1" fill="#42936a"/><ellipse cx="1164.0" cy="572.7" rx="27.9" ry="23.5" fill="url(#spk)"/><ellipse cx="1222.9" cy="572.8" rx="28.5" ry="24.1" fill="#42936a"/><ellipse cx="1222.9" cy="572.8" rx="27.9" ry="23.5" fill="url(#spk)"/><ellipse cx="1134.8" cy="614.9" rx="28.5" ry="24.1" fill="#42936a"/><ellipse cx="1134.8" cy="614.9" rx="27.9" ry="23.5" fill="url(#spk)"/><ellipse cx="1193.1" cy="614.9" rx="28.5" ry="24.1" fill="#42936a"/><ellipse cx="1193.1" cy="614.9" rx="27.9" ry="23.5" fill="url(#spk)"/><ellipse cx="1105.7" cy="656.9" rx="28.5" ry="24.1" fill="#42936a"/><ellipse cx="1105.7" cy="656.9" rx="27.9" ry="23.5" fill="url(#spk)"/><ellipse cx="1164.0" cy="656.9" rx="28.5" ry="24.1" fill="#42936a"/><ellipse cx="1164.0" cy="656.9" rx="27.9" ry="23.5" fill="url(#spk)"/><ellipse cx="1222.9" cy="656.9" rx="28.5" ry="24.1" fill="#42936a"/><ellipse cx="1222.9" cy="656.9" rx="27.9" ry="23.5" fill="url(#spk)"/><ellipse cx="1134.8" cy="698.9" rx="28.5" ry="24.1" fill="#42936a"/><ellipse cx="1134.8" cy="698.9" rx="27.9" ry="23.5" fill="url(#spk)"/><ellipse cx="1193.1" cy="698.9" rx="28.5" ry="24.1" fill="#42936a"/><ellipse cx="1193.1" cy="698.9" rx="27.9" ry="23.5" fill="url(#spk)"/><path d="M1027.8 606.3H1088.0Q1103.0 606.7 1111.0 613.3Q1103.0 619.9 1088.0 620.3H1027.8Z" fill="#2456ab"/></g>
<rect x="1004.5" y="547.3" width="216.5" height="132.4" fill="none" stroke="#1a1a1a" stroke-width="4.0"/>
<line x1="1374.2" y1="129.1" x2="1538" y2="129.1" stroke="#445e92" stroke-width="4.0" stroke-linecap="round"/><rect x="1443.7" y="119.0" width="24" height="20.2" rx="2.6" fill="#445e92"/><text x="1557.6" y="148.9" font-size="66.0" text-anchor="start">C1</text>
<line x1="1374.2" y1="204.0" x2="1538" y2="204.0" stroke="#f07e84" stroke-width="4.0" stroke-linecap="round"/><ellipse cx="1455.7" cy="203.5" rx="12.9" ry="11.2" fill="#f07e84"/><text x="1557.6" y="222.9" font-size="66.0" text-anchor="start">C2</text>
<line x1="1374.2" y1="278.4" x2="1538" y2="278.4" stroke="#268c8a" stroke-width="4.0" stroke-linecap="round"/><path d="M1455.7 264.9L1441.6 285.3H1469.8Z" fill="#268c8a" stroke="#268c8a" stroke-width="4" stroke-linejoin="round"/><text x="1557.6" y="298.2" font-size="66.0" text-anchor="start">C3</text>
<line x1="1374.2" y1="352.9" x2="1538" y2="352.9" stroke="#faa25e" stroke-width="4.0" stroke-linecap="round"/><path d="M1455.7 366.4L1441.6 346.0H1469.8Z" fill="#faa25e" stroke="#faa25e" stroke-width="4" stroke-linejoin="round"/><text x="1557.6" y="371.6" font-size="66.0" text-anchor="start">C4</text>
<text x="268.2" y="877.6" font-size="66.0" text-anchor="end">20</text>
<text x="268.2" y="720.1" font-size="66.0" text-anchor="end">40</text>
<text x="268.2" y="562.6" font-size="66.0" text-anchor="end">60</text>
<text x="268.2" y="405.1" font-size="66.0" text-anchor="end">80</text>
<text x="268.2" y="247.6" font-size="66.0" text-anchor="end">100</text>
<text x="268.2" y="90.1" font-size="66.0" text-anchor="end">120</text>
<text x="268.2" y="1030.3" font-size="66.0" text-anchor="end">0</text>
<text x="646.1" y="1093.3" font-size="66.0" text-anchor="middle">50</text>
<text x="1000.3" y="1093.3" font-size="66.0" text-anchor="middle">100</text>
<text x="1354.4" y="1093.3" font-size="66.0" text-anchor="middle">150</text>
<text x="1708.5" y="1093.3" font-size="66.0" text-anchor="middle">200</text>
<text x="913.9" y="1175.2" font-size="66.0"><tspan font-style="italic">D</tspan>/mm</text>
<text transform="translate(139.6 543.3) rotate(-90)" text-anchor="middle" font-size="66.0"><tspan font-style="italic">F</tspan>/MN</text>
<text y="55" font-size="66.0"><tspan x="368.2" font-style="italic">D</tspan><tspan x="416.3">=</tspan><tspan x="454.2">25 </tspan><tspan x="538">mm</tspan></text>
<text y="57.6" font-size="66.0"><tspan x="1227.9" font-style="italic">D</tspan><tspan x="1276">=</tspan><tspan x="1317.5">150 </tspan><tspan x="1431">mm</tspan></text>
<text class="rn" transform="translate(363.0 131.6) scale(0.8 1)" x="0" y="0" font-size="70" text-anchor="middle">Ⅰ</text>
<text class="rn" transform="translate(559.7 131.4) scale(0.8 1)" x="0" y="0" font-size="70" text-anchor="middle">Ⅱ</text>
<text class="rn" transform="translate(1512.4 813.7) scale(0.735 1)" x="0" y="0" font-size="70" text-anchor="middle">Ⅲ</text>
<text y="350.6" font-size="66.0"><tspan x="480.0">C4:</tspan> <tspan x="594.0" font-style="italic">F</tspan><tspan x="633.6" font-size="40.5" dy="10.5">max</tspan><tspan x="700.4" dy="-10.5">=</tspan><tspan x="740.9">85</tspan> <tspan x="823.1">MN</tspan></text>
<text y="282.8" font-size="66.0"><tspan x="856.9">C2:</tspan> <tspan x="970.9" font-style="italic">F</tspan><tspan x="1010.5" font-size="40.5" dy="10.5">max</tspan><tspan x="1077.3" dy="-10.5">=</tspan><tspan x="1115.6">106</tspan> <tspan x="1232.0">MN</tspan></text>
<text y="528.5" font-size="66.0"><tspan x="873.6">C3:</tspan> <tspan x="987.6" font-style="italic">F</tspan><tspan x="1027.2" font-size="40.5" dy="10.5">max</tspan><tspan x="1094.0" dy="-10.5">=</tspan><tspan x="1134.5">85</tspan> <tspan x="1216.7">MN</tspan></text>
<text y="736.1" font-size="66.0"><tspan x="873.6">C1:</tspan> <tspan x="987.6" font-style="italic">F</tspan><tspan x="1027.2" font-size="40.5" dy="10.5">max</tspan><tspan x="1094.0" dy="-10.5">=</tspan><tspan x="1134.5">71</tspan> <tspan x="1216.7">MN</tspan></text>
</svg>
</body>
</html>
